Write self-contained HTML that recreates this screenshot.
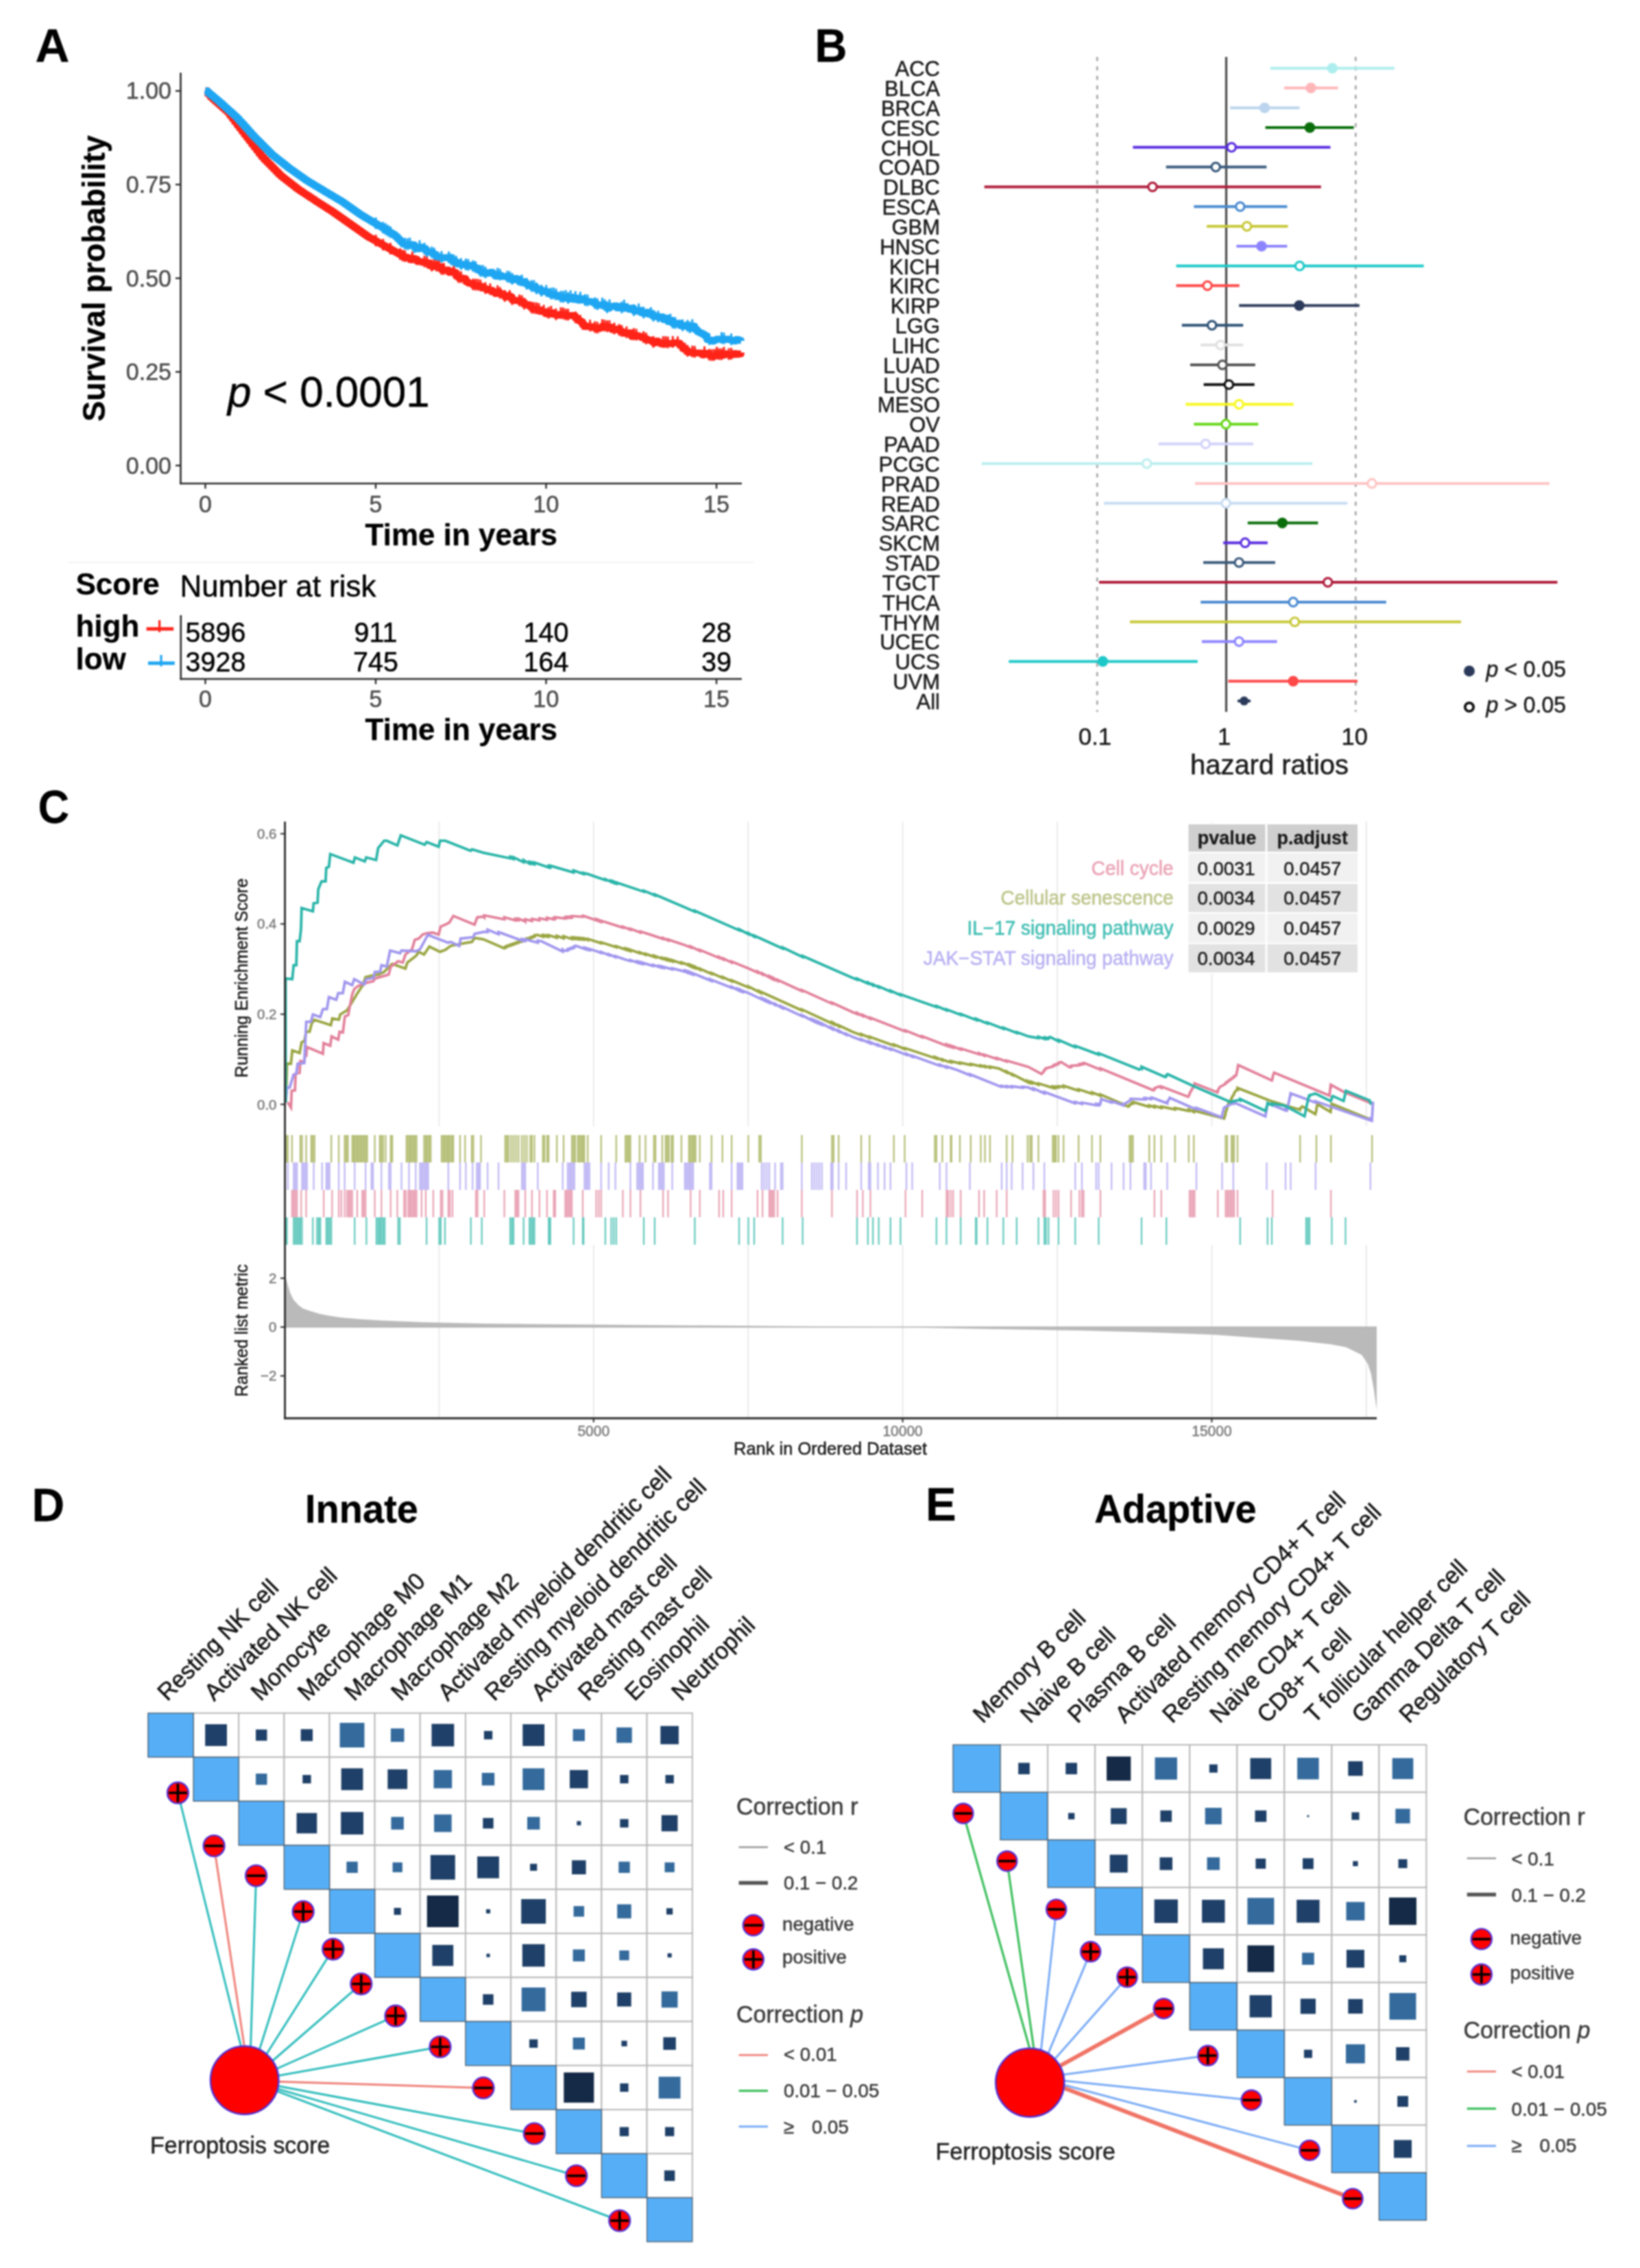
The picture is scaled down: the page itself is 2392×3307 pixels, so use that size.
<!DOCTYPE html>
<html><head><meta charset="utf-8"><title>Figure</title>
<style>html,body{margin:0;padding:0;background:#fff;} svg{display:block;filter:blur(0.8px);}</style></head>
<body><svg width="2392" height="3307" viewBox="0 0 2392 3307" font-family='"Liberation Sans", Arial, Helvetica, sans-serif'>
<rect width="2392" height="3307" fill="#fff"/>
<text transform="translate(51.5,89.5)" font-size="69" text-anchor="start" fill="#000" stroke="#000" stroke-width="0.3" font-weight="bold" >A</text>
<line x1="263.5" y1="106.0" x2="263.5" y2="706.2" stroke="#2b2b2b" stroke-width="2.6" />
<line x1="262.2" y1="705.0" x2="1082.0" y2="705.0" stroke="#2b2b2b" stroke-width="2.6" />
<line x1="256.0" y1="132.6" x2="263.5" y2="132.6" stroke="#2b2b2b" stroke-width="2.4" />
<text transform="translate(250.0,144.4) scale(1,1.025)" font-size="34" text-anchor="end" fill="#4d4d4d" stroke="#4d4d4d" stroke-width="0.5" >1.00</text>
<line x1="256.0" y1="269.1" x2="263.5" y2="269.1" stroke="#2b2b2b" stroke-width="2.4" />
<text transform="translate(250.0,280.9) scale(1,1.025)" font-size="34" text-anchor="end" fill="#4d4d4d" stroke="#4d4d4d" stroke-width="0.5" >0.75</text>
<line x1="256.0" y1="405.7" x2="263.5" y2="405.7" stroke="#2b2b2b" stroke-width="2.4" />
<text transform="translate(250.0,417.5) scale(1,1.025)" font-size="34" text-anchor="end" fill="#4d4d4d" stroke="#4d4d4d" stroke-width="0.5" >0.50</text>
<line x1="256.0" y1="542.2" x2="263.5" y2="542.2" stroke="#2b2b2b" stroke-width="2.4" />
<text transform="translate(250.0,554.0) scale(1,1.025)" font-size="34" text-anchor="end" fill="#4d4d4d" stroke="#4d4d4d" stroke-width="0.5" >0.25</text>
<line x1="256.0" y1="678.8" x2="263.5" y2="678.8" stroke="#2b2b2b" stroke-width="2.4" />
<text transform="translate(250.0,690.6) scale(1,1.025)" font-size="34" text-anchor="end" fill="#4d4d4d" stroke="#4d4d4d" stroke-width="0.5" >0.00</text>
<line x1="299.5" y1="705.0" x2="299.5" y2="712.5" stroke="#2b2b2b" stroke-width="2.4" />
<text transform="translate(299.5,746.5) scale(1,1.025)" font-size="34" text-anchor="middle" fill="#4d4d4d" stroke="#4d4d4d" stroke-width="0.5" >0</text>
<line x1="548.0" y1="705.0" x2="548.0" y2="712.5" stroke="#2b2b2b" stroke-width="2.4" />
<text transform="translate(548.0,746.5) scale(1,1.025)" font-size="34" text-anchor="middle" fill="#4d4d4d" stroke="#4d4d4d" stroke-width="0.5" >5</text>
<line x1="796.5" y1="705.0" x2="796.5" y2="712.5" stroke="#2b2b2b" stroke-width="2.4" />
<text transform="translate(796.5,746.5) scale(1,1.025)" font-size="34" text-anchor="middle" fill="#4d4d4d" stroke="#4d4d4d" stroke-width="0.5" >10</text>
<line x1="1045.0" y1="705.0" x2="1045.0" y2="712.5" stroke="#2b2b2b" stroke-width="2.4" />
<text transform="translate(1045.0,746.5) scale(1,1.025)" font-size="34" text-anchor="middle" fill="#4d4d4d" stroke="#4d4d4d" stroke-width="0.5" >15</text>
<text transform="translate(672.8,794.5) scale(1,1.025)" font-size="44" text-anchor="middle" fill="#000" stroke="#000" stroke-width="0.3" font-weight="bold" >Time in years</text>
<text transform="translate(152.5,406.0) rotate(-90) scale(1,1.025)" font-size="45" text-anchor="middle" fill="#000" stroke="#000" stroke-width="0.3" font-weight="bold" >Survival probability</text>
<text transform="translate(332.0,593.4) scale(1,1.025)" font-size="62" text-anchor="start" fill="#000" stroke="#000" stroke-width="0.5" ><tspan font-style="italic">p</tspan> &lt; 0.0001</text>
<path d="M299.5,132.6H303.1V137.5H306.6V141.8H310.2V145.0H313.7V148.1H317.3V151.3H320.8V154.4H324.4V157.6H327.9V160.7H331.5V163.9H335.0V168.6H338.6V173.3H342.1V177.9H345.7V182.6H349.2V187.3H352.8V191.9H356.3V196.6H359.9V201.2H363.4V205.8H367.0V210.4H370.5V214.9H374.1V219.5H377.6V224.1H381.2V228.7H384.7V232.6H388.3V236.2H391.8V239.8H395.4V243.4H398.9V247.0H402.5V250.6H406.0V254.2H409.6V257.4H413.1V260.2H416.7V263.0H420.2V265.7H423.8V268.5H427.3V271.3H430.9V274.1H434.4V276.8H438.0V279.1H441.6V281.5H445.1V283.8H448.7V286.1H452.2V288.5H455.8V290.8H459.3V293.2H462.9V295.5H466.4V297.7H470.0V300.0H473.5V302.3H477.1V304.6H480.6V306.8H484.2V309.1H487.7V311.6H491.3V314.1H494.8V316.6H498.4V319.1H501.9V321.6H505.5V324.1H509.0V326.6H512.6V329.1H516.1V331.6H519.7V334.1H523.2V336.6H526.8V339.1H530.3V341.6H533.9V344.1H537.4V346.4H541.0V348.3H544.5V350.3H548.1V352.3H551.6V354.3H555.2V356.2H558.7V358.2H562.3V360.2H565.8V362.1H569.4V364.1H572.9V366.1H576.5V368.0H580.1V370.0H583.6V372.0H587.2V374.0H590.7V375.0H594.3V376.1H597.8V378.7H601.4V376.7H604.9V378.1H608.5V381.4H612.0V381.4H615.6V382.6H619.1V382.8H622.7V383.3H626.2V387.4H629.8V388.8H633.3V386.3H636.9V389.1H640.4V389.0H644.0V393.8H647.5V393.4H651.1V393.7H654.6V397.3H658.2V395.7H661.7V397.4H665.3V403.0H668.8V405.4H672.4V405.5H675.9V406.2H679.5V411.0H683.0V413.0H686.6V413.3H690.1V416.2H693.7V416.6H697.2V416.8H700.8V417.8H704.3V420.1H707.9V421.5H711.4V423.0H715.0V423.3H718.6V425.5H722.1V428.1H725.7V426.0H729.2V428.6H732.8V429.7H736.3V433.1H739.9V431.0H743.4V433.1H747.0V437.8H750.5V438.3H754.1V438.0H757.6V439.6H761.2V440.4H764.7V444.3H768.3V444.3H771.8V446.7H775.4V450.0H778.9V450.5H782.5V450.9H786.0V451.9H789.6V454.2H793.1V454.6H796.7V457.7H800.2V457.6H803.8V455.9H807.3V458.4H810.9V459.8H814.4V458.5H818.0V458.1H821.5V458.5H825.1V460.1H828.6V460.2H832.2V460.1H835.7V460.5H839.3V464.2H842.8V467.2H846.4V469.3H850.0V473.9H853.5V476.3H857.1V476.0H860.6V476.2H864.2V477.7H867.7V478.4H871.3V479.3H874.8V477.7H878.4V475.4H881.9V476.2H885.5V477.2H889.0V476.9H892.6V480.7H896.1V480.6H899.7V479.7H903.2V482.4H906.8V484.0H910.3V485.9H913.9V485.9H917.4V485.3H921.0V490.7H924.5V488.5H928.1V489.5H931.6V490.4H935.2V492.3H938.7V493.0H942.3V495.1H945.8V495.9H949.4V497.4H952.9V499.9H956.5V497.3H960.0V499.5H963.6V501.5H967.1V500.2H970.7V500.3H974.2V500.8H977.8V500.9H981.3V500.0H984.9V499.7H988.5V500.5H992.0V503.9H995.6V508.4H999.1V510.2H1002.7V513.1H1006.2V514.0H1009.8V514.0H1013.3V514.5H1016.9V514.7H1020.4V514.8H1024.0V517.4H1027.5V515.0H1031.1V516.0H1034.6V518.7H1038.2V519.2H1041.7V519.1H1045.3V515.7H1048.8V517.7H1052.4V518.1H1055.9V515.7H1059.5V516.7H1063.0V517.7H1066.6V517.2H1070.1V515.4H1073.7V516.8H1077.2V516.1H1080.8V514.0" fill="none" stroke="#ff2318" stroke-width="10" stroke-linejoin="round"/>
<path d="M548.1,342.3V359.3M558.7,348.2V365.2M569.4,354.1V371.1M583.6,362.0V379.0M587.2,364.0V381.0M590.7,365.0V382.0M601.4,366.7V383.7M619.1,372.8V389.8M622.7,373.3V390.3M629.8,378.8V395.8M633.3,376.3V393.3M636.9,379.1V396.1M640.4,379.0V396.0M644.0,383.8V400.8M647.5,383.4V400.4M661.7,387.4V404.4M668.8,395.4V412.4M672.4,395.5V412.5M690.1,406.2V423.2M693.7,406.6V423.6M697.2,406.8V423.8M700.8,407.8V424.8M707.9,411.5V428.5M715.0,413.3V430.3M725.7,416.0V433.0M729.2,418.6V435.6M736.3,423.1V440.1M743.4,423.1V440.1M747.0,427.8V444.8M757.6,429.6V446.6M761.2,430.4V447.4M764.7,434.3V451.3M775.4,440.0V457.0M778.9,440.5V457.5M782.5,440.9V457.9M786.0,441.9V458.9M793.1,444.6V461.6M800.2,447.6V464.6M803.8,445.9V462.9M810.9,449.8V466.8M818.0,448.1V465.1M821.5,448.5V465.5M825.1,450.1V467.1M828.6,450.2V467.2M839.3,454.2V471.2M846.4,459.3V476.3M850.0,463.9V480.9M860.6,466.2V483.2M867.7,468.4V485.4M871.3,469.3V486.3M878.4,465.4V482.4M881.9,466.2V483.2M885.5,467.2V484.2M889.0,466.9V483.9M896.1,470.6V487.6M903.2,472.4V489.4M906.8,474.0V491.0M913.9,475.9V492.9M924.5,478.5V495.5M928.1,479.5V496.5M938.7,483.0V500.0M942.3,485.1V502.1M952.9,489.9V506.9M967.1,490.2V507.2M970.7,490.3V507.3M974.2,490.8V507.8M981.3,490.0V507.0M988.5,490.5V507.5M999.1,500.2V517.2M1002.7,503.1V520.1M1009.8,504.0V521.0M1013.3,504.5V521.5M1027.5,505.0V522.0M1034.6,508.7V525.7M1038.2,509.2V526.2M1041.7,509.1V526.1M1045.3,505.7V522.7M1048.8,507.7V524.7M1052.4,508.1V525.1M1055.9,505.7V522.7M1063.0,507.7V524.7M1066.6,507.2V524.2" stroke="#ff2318" stroke-width="3" fill="none"/>
<path d="M299.5,132.6H303.1V135.6H306.6V138.6H310.2V141.5H313.7V144.5H317.3V147.5H320.8V150.6H324.4V153.8H327.9V157.0H331.5V160.2H335.0V163.3H338.6V166.5H342.1V169.7H345.7V173.3H349.2V177.2H352.8V181.1H356.3V185.1H359.9V189.0H363.4V193.0H367.0V196.9H370.5V200.7H374.1V204.3H377.6V207.8H381.2V211.4H384.7V215.0H388.3V218.5H391.8V222.1H395.4V225.6H398.9V228.4H402.5V231.2H406.0V234.0H409.6V236.8H413.1V239.6H416.7V242.4H420.2V245.2H423.8V247.8H427.3V250.3H430.9V252.8H434.4V255.2H438.0V257.7H441.6V260.2H445.1V262.7H448.7V265.0H452.2V267.1H455.8V269.2H459.3V271.4H462.9V273.5H466.4V275.6H470.0V277.8H473.5V279.9H477.1V282.0H480.6V284.1H484.2V286.2H487.7V288.3H491.3V290.4H494.8V292.5H498.4V294.7H501.9V297.2H505.5V299.7H509.0V302.3H512.6V304.8H516.1V307.3H519.7V309.8H523.2V312.3H526.8V314.4H530.3V316.6H533.9V318.7H537.4V320.8H541.0V322.9H544.5V325.0H548.1V327.1H551.6V329.2H555.2V331.3H558.7V333.5H562.3V335.6H565.8V337.8H569.4V339.9H572.9V342.0H576.5V345.1H580.1V348.7H583.6V352.3H587.2V355.9H590.7V356.8H594.3V357.6H597.8V356.5H601.4V357.3H604.9V362.0H608.5V362.7H612.0V360.3H615.6V362.1H619.1V364.1H622.7V367.4H626.2V367.8H629.8V369.4H633.3V371.2H636.9V374.8H640.4V374.9H644.0V376.1H647.5V375.7H651.1V375.6H654.6V376.8H658.2V379.7H661.7V381.1H665.3V383.0H668.8V385.1H672.4V386.2H675.9V385.3H679.5V387.0H683.0V387.8H686.6V386.7H690.1V389.4H693.7V390.9H697.2V393.9H700.8V396.4H704.3V396.6H707.9V398.7H711.4V398.1H715.0V397.0H718.6V399.5H722.1V402.7H725.7V400.6H729.2V402.1H732.8V403.3H736.3V403.3H739.9V404.7H743.4V405.4H747.0V408.1H750.5V406.1H754.1V406.9H757.6V411.4H761.2V410.6H764.7V412.5H768.3V415.3H771.8V416.7H775.4V418.6H778.9V418.5H782.5V422.0H786.0V421.9H789.6V425.3H793.1V424.3H796.7V425.5H800.2V428.7H803.8V429.6H807.3V429.3H810.9V430.8H814.4V432.4H818.0V434.1H821.5V434.2H825.1V433.0H828.6V435.9H832.2V433.2H835.7V436.6H839.3V434.5H842.8V437.8H846.4V435.6H850.0V437.4H853.5V439.0H857.1V439.6H860.6V439.9H864.2V441.2H867.7V443.5H871.3V445.0H874.8V444.7H878.4V443.9H881.9V446.3H885.5V449.6H889.0V446.4H892.6V446.8H896.1V446.0H899.7V449.1H903.2V446.7H906.8V449.7H910.3V447.1H913.9V449.8H917.4V451.1H921.0V449.3H924.5V453.7H928.1V452.9H931.6V452.5H935.2V456.2H938.7V457.3H942.3V455.3H945.8V458.2H949.4V457.9H952.9V461.8H956.5V461.3H960.0V463.0H963.6V462.0H967.1V466.0H970.7V463.7H974.2V469.1H977.8V467.5H981.3V472.0H984.9V472.4H988.5V471.2H992.0V474.9H995.6V475.7H999.1V474.3H1002.7V476.5H1006.2V478.8H1009.8V475.5H1013.3V480.4H1016.9V483.8H1020.4V485.4H1024.0V487.2H1027.5V489.6H1031.1V495.3H1034.6V496.0H1038.2V497.5H1041.7V495.8H1045.3V494.5H1048.8V494.8H1052.4V494.2H1055.9V495.0H1059.5V494.6H1063.0V495.4H1066.6V496.3H1070.1V497.2H1073.7V495.0H1077.2V496.3H1080.8V497.0" fill="none" stroke="#1ea6f2" stroke-width="10" stroke-linejoin="round"/>
<path d="M548.1,317.1V334.1M558.7,323.5V340.5M562.3,325.6V342.6M565.8,327.8V344.8M569.4,329.9V346.9M590.7,346.8V363.8M594.3,347.6V364.6M597.8,346.5V363.5M604.9,352.0V369.0M612.0,350.3V367.3M619.1,354.1V371.1M622.7,357.4V374.4M629.8,359.4V376.4M633.3,361.2V378.2M644.0,366.1V383.1M654.6,366.8V383.8M658.2,369.7V386.7M661.7,371.1V388.1M665.3,373.0V390.0M672.4,376.2V393.2M679.5,377.0V394.0M683.0,377.8V394.8M690.1,379.4V396.4M693.7,380.9V397.9M700.8,386.4V403.4M704.3,386.6V403.6M707.9,388.7V405.7M725.7,390.6V407.6M729.2,392.1V409.1M739.9,394.7V411.7M743.4,395.4V412.4M747.0,398.1V415.1M761.2,400.6V417.6M768.3,405.3V422.3M775.4,408.6V425.6M778.9,408.5V425.5M782.5,412.0V429.0M789.6,415.3V432.3M796.7,415.5V432.5M803.8,419.6V436.6M807.3,419.3V436.3M810.9,420.8V437.8M818.0,424.1V441.1M821.5,424.2V441.2M825.1,423.0V440.0M828.6,425.9V442.9M832.2,423.2V440.2M839.3,424.5V441.5M846.4,425.6V442.6M853.5,429.0V446.0M857.1,429.6V446.6M867.7,433.5V450.5M871.3,435.0V452.0M878.4,433.9V450.9M881.9,436.3V453.3M885.5,439.6V456.6M889.0,436.4V453.4M906.8,439.7V456.7M910.3,437.1V454.1M924.5,443.7V460.7M931.6,442.5V459.5M938.7,447.3V464.3M949.4,447.9V464.9M952.9,451.8V468.8M960.0,453.0V470.0M977.8,457.5V474.5M981.3,462.0V479.0M984.9,462.4V479.4M995.6,465.7V482.7M1002.7,466.5V483.5M1006.2,468.8V485.8M1009.8,465.5V482.5M1034.6,486.0V503.0M1052.4,484.2V501.2M1055.9,485.0V502.0M1066.6,486.3V503.3" stroke="#1ea6f2" stroke-width="3" fill="none"/>
<line x1="100.0" y1="820.0" x2="1100.0" y2="820.0" stroke="#f2f2f2" stroke-width="2" />
<text transform="translate(110.5,866.8) scale(1,1.025)" font-size="44" text-anchor="start" fill="#000" stroke="#000" stroke-width="0.3" font-weight="bold" >Score</text>
<text transform="translate(262.5,870.3) scale(1,1.025)" font-size="44" text-anchor="start" fill="#000" stroke="#000" stroke-width="0.5" >Number at risk</text>
<text transform="translate(110.5,928.0) scale(1,1.025)" font-size="44" text-anchor="start" fill="#000" stroke="#000" stroke-width="0.3" font-weight="bold" >high</text>
<text transform="translate(110.5,976.4) scale(1,1.025)" font-size="44" text-anchor="start" fill="#000" stroke="#000" stroke-width="0.3" font-weight="bold" >low</text>
<line x1="213.6" y1="917.0" x2="253.2" y2="917.0" stroke="#ff2318" stroke-width="5" />
<line x1="232.6" y1="904.3" x2="232.6" y2="921.7" stroke="#ff2318" stroke-width="3.2" />
<line x1="216.0" y1="967.0" x2="254.8" y2="967.0" stroke="#1ea6f2" stroke-width="5" />
<line x1="235.0" y1="955.0" x2="235.0" y2="971.6" stroke="#1ea6f2" stroke-width="3.2" />
<line x1="263.8" y1="897.0" x2="263.8" y2="991.3" stroke="#2b2b2b" stroke-width="2.6" />
<line x1="262.5" y1="990.0" x2="1082.0" y2="990.0" stroke="#2b2b2b" stroke-width="2.6" />
<line x1="299.5" y1="990.0" x2="299.5" y2="997.5" stroke="#2b2b2b" stroke-width="2.4" />
<text transform="translate(299.5,1031.0) scale(1,1.025)" font-size="34" text-anchor="middle" fill="#4d4d4d" stroke="#4d4d4d" stroke-width="0.5" >0</text>
<line x1="548.0" y1="990.0" x2="548.0" y2="997.5" stroke="#2b2b2b" stroke-width="2.4" />
<text transform="translate(548.0,1031.0) scale(1,1.025)" font-size="34" text-anchor="middle" fill="#4d4d4d" stroke="#4d4d4d" stroke-width="0.5" >5</text>
<line x1="796.5" y1="990.0" x2="796.5" y2="997.5" stroke="#2b2b2b" stroke-width="2.4" />
<text transform="translate(796.5,1031.0) scale(1,1.025)" font-size="34" text-anchor="middle" fill="#4d4d4d" stroke="#4d4d4d" stroke-width="0.5" >10</text>
<line x1="1045.0" y1="990.0" x2="1045.0" y2="997.5" stroke="#2b2b2b" stroke-width="2.4" />
<text transform="translate(1045.0,1031.0) scale(1,1.025)" font-size="34" text-anchor="middle" fill="#4d4d4d" stroke="#4d4d4d" stroke-width="0.5" >15</text>
<text transform="translate(672.8,1078.8) scale(1,1.025)" font-size="44" text-anchor="middle" fill="#000" stroke="#000" stroke-width="0.3" font-weight="bold" >Time in years</text>
<text transform="translate(270.5,936.0) scale(1,1.025)" font-size="39.5" text-anchor="start" fill="#000" stroke="#000" stroke-width="0.5" >5896</text>
<text transform="translate(270.5,978.5) scale(1,1.025)" font-size="39.5" text-anchor="start" fill="#000" stroke="#000" stroke-width="0.5" >3928</text>
<text transform="translate(548.0,936.0) scale(1,1.025)" font-size="39.5" text-anchor="middle" fill="#000" stroke="#000" stroke-width="0.5" >911</text>
<text transform="translate(548.0,978.5) scale(1,1.025)" font-size="39.5" text-anchor="middle" fill="#000" stroke="#000" stroke-width="0.5" >745</text>
<text transform="translate(796.5,936.0) scale(1,1.025)" font-size="39.5" text-anchor="middle" fill="#000" stroke="#000" stroke-width="0.5" >140</text>
<text transform="translate(796.5,978.5) scale(1,1.025)" font-size="39.5" text-anchor="middle" fill="#000" stroke="#000" stroke-width="0.5" >164</text>
<text transform="translate(1045.0,936.0) scale(1,1.025)" font-size="39.5" text-anchor="middle" fill="#000" stroke="#000" stroke-width="0.5" >28</text>
<text transform="translate(1045.0,978.5) scale(1,1.025)" font-size="39.5" text-anchor="middle" fill="#000" stroke="#000" stroke-width="0.5" >39</text>
<text transform="translate(1188.5,89.5) scale(1,1.06)" font-size="65" text-anchor="start" fill="#000" stroke="#000" stroke-width="0.3" font-weight="bold" >B</text>
<g>
<line x1="1600.3" y1="83.0" x2="1600.3" y2="1038.0" stroke="#a8a8a8" stroke-width="2.8" stroke-dasharray="6 7.8"/>
<line x1="1977.3" y1="83.0" x2="1977.3" y2="1038.0" stroke="#a8a8a8" stroke-width="2.8" stroke-dasharray="6 7.8"/>
<line x1="1788.5" y1="83.0" x2="1788.5" y2="1038.0" stroke="#4a4a4a" stroke-width="3.2" />
</g>
<text transform="translate(1371.0,111.3) scale(1,1.025)" font-size="31" text-anchor="end" fill="#1a1a1a" stroke="#1a1a1a" stroke-width="0.5" >ACC</text>
<line x1="1852.7" y1="99.5" x2="2033.8" y2="99.5" stroke="#aeeeee" stroke-width="4" />
<circle cx="1943.3" cy="99.5" r="7.8" fill="#aeeeee"/>
<text transform="translate(1371.0,140.1) scale(1,1.025)" font-size="31" text-anchor="end" fill="#1a1a1a" stroke="#1a1a1a" stroke-width="0.5" >BLCA</text>
<line x1="1873.0" y1="128.3" x2="1951.5" y2="128.3" stroke="#ffb6b9" stroke-width="4" />
<circle cx="1912.0" cy="128.3" r="7.8" fill="#ffb6b9"/>
<text transform="translate(1371.0,169.0) scale(1,1.025)" font-size="31" text-anchor="end" fill="#1a1a1a" stroke="#1a1a1a" stroke-width="0.5" >BRCA</text>
<line x1="1794.0" y1="157.2" x2="1895.5" y2="157.2" stroke="#bcd4ee" stroke-width="4" />
<circle cx="1844.5" cy="157.2" r="7.8" fill="#bcd4ee"/>
<text transform="translate(1371.0,197.8) scale(1,1.025)" font-size="31" text-anchor="end" fill="#1a1a1a" stroke="#1a1a1a" stroke-width="0.5" >CESC</text>
<line x1="1845.6" y1="186.0" x2="1974.6" y2="186.0" stroke="#0a6e0a" stroke-width="4" />
<circle cx="1910.4" cy="186.0" r="7.8" fill="#0a6e0a"/>
<text transform="translate(1371.0,226.6) scale(1,1.025)" font-size="31" text-anchor="end" fill="#1a1a1a" stroke="#1a1a1a" stroke-width="0.5" >CHOL</text>
<line x1="1652.4" y1="214.8" x2="1940.5" y2="214.8" stroke="#5a2ee0" stroke-width="4" />
<circle cx="1796.2" cy="214.8" r="6.2" fill="#fff" stroke="#5a2ee0" stroke-width="3.2"/>
<text transform="translate(1371.0,255.4) scale(1,1.025)" font-size="31" text-anchor="end" fill="#1a1a1a" stroke="#1a1a1a" stroke-width="0.5" >COAD</text>
<line x1="1700.7" y1="243.6" x2="1847.3" y2="243.6" stroke="#3a5a7c" stroke-width="4" />
<circle cx="1773.2" cy="243.6" r="6.2" fill="#fff" stroke="#3a5a7c" stroke-width="3.2"/>
<text transform="translate(1371.0,284.3) scale(1,1.025)" font-size="31" text-anchor="end" fill="#1a1a1a" stroke="#1a1a1a" stroke-width="0.5" >DLBC</text>
<line x1="1435.7" y1="272.5" x2="1926.8" y2="272.5" stroke="#b01c3a" stroke-width="4" />
<circle cx="1681.0" cy="272.5" r="6.2" fill="#fff" stroke="#b01c3a" stroke-width="3.2"/>
<text transform="translate(1371.0,313.1) scale(1,1.025)" font-size="31" text-anchor="end" fill="#1a1a1a" stroke="#1a1a1a" stroke-width="0.5" >ESCA</text>
<line x1="1741.3" y1="301.3" x2="1877.4" y2="301.3" stroke="#4a8ad0" stroke-width="4" />
<circle cx="1808.8" cy="301.3" r="6.2" fill="#fff" stroke="#4a8ad0" stroke-width="3.2"/>
<text transform="translate(1371.0,341.9) scale(1,1.025)" font-size="31" text-anchor="end" fill="#1a1a1a" stroke="#1a1a1a" stroke-width="0.5" >GBM</text>
<line x1="1760.0" y1="330.1" x2="1878.5" y2="330.1" stroke="#c8c83a" stroke-width="4" />
<circle cx="1818.7" cy="330.1" r="6.2" fill="#fff" stroke="#c8c83a" stroke-width="3.2"/>
<text transform="translate(1371.0,370.8) scale(1,1.025)" font-size="31" text-anchor="end" fill="#1a1a1a" stroke="#1a1a1a" stroke-width="0.5" >HNSC</text>
<line x1="1803.4" y1="359.0" x2="1877.4" y2="359.0" stroke="#8c84ff" stroke-width="4" />
<circle cx="1840.0" cy="359.0" r="7.8" fill="#8c84ff"/>
<text transform="translate(1371.0,399.6) scale(1,1.025)" font-size="31" text-anchor="end" fill="#1a1a1a" stroke="#1a1a1a" stroke-width="0.5" >KICH</text>
<line x1="1715.5" y1="387.8" x2="2076.6" y2="387.8" stroke="#1ec8c8" stroke-width="4" />
<circle cx="1895.6" cy="387.8" r="6.2" fill="#fff" stroke="#1ec8c8" stroke-width="3.2"/>
<text transform="translate(1371.0,428.4) scale(1,1.025)" font-size="31" text-anchor="end" fill="#1a1a1a" stroke="#1a1a1a" stroke-width="0.5" >KIRC</text>
<line x1="1715.5" y1="416.6" x2="1807.7" y2="416.6" stroke="#ff4848" stroke-width="4" />
<circle cx="1761.1" cy="416.6" r="6.2" fill="#fff" stroke="#ff4848" stroke-width="3.2"/>
<text transform="translate(1371.0,457.3) scale(1,1.025)" font-size="31" text-anchor="end" fill="#1a1a1a" stroke="#1a1a1a" stroke-width="0.5" >KIRP</text>
<line x1="1807.2" y1="445.5" x2="1982.8" y2="445.5" stroke="#2b3a5a" stroke-width="4" />
<circle cx="1895.0" cy="445.5" r="7.8" fill="#2b3a5a"/>
<text transform="translate(1371.0,486.1) scale(1,1.025)" font-size="31" text-anchor="end" fill="#1a1a1a" stroke="#1a1a1a" stroke-width="0.5" >LGG</text>
<line x1="1723.8" y1="474.3" x2="1813.2" y2="474.3" stroke="#2e5276" stroke-width="4" />
<circle cx="1767.7" cy="474.3" r="6.2" fill="#fff" stroke="#2e5276" stroke-width="3.2"/>
<text transform="translate(1371.0,514.9) scale(1,1.025)" font-size="31" text-anchor="end" fill="#1a1a1a" stroke="#1a1a1a" stroke-width="0.5" >LIHC</text>
<line x1="1751.2" y1="503.1" x2="1813.2" y2="503.1" stroke="#e0e0e0" stroke-width="4" />
<circle cx="1780.3" cy="503.1" r="6.2" fill="#fff" stroke="#e0e0e0" stroke-width="3.2"/>
<text transform="translate(1371.0,543.8) scale(1,1.025)" font-size="31" text-anchor="end" fill="#1a1a1a" stroke="#1a1a1a" stroke-width="0.5" >LUAD</text>
<line x1="1735.9" y1="532.0" x2="1830.8" y2="532.0" stroke="#555555" stroke-width="4" />
<circle cx="1783.0" cy="532.0" r="6.2" fill="#fff" stroke="#555555" stroke-width="3.2"/>
<text transform="translate(1371.0,572.6) scale(1,1.025)" font-size="31" text-anchor="end" fill="#1a1a1a" stroke="#1a1a1a" stroke-width="0.5" >LUSC</text>
<line x1="1755.6" y1="560.8" x2="1829.7" y2="560.8" stroke="#111111" stroke-width="4" />
<circle cx="1792.4" cy="560.8" r="6.2" fill="#fff" stroke="#111111" stroke-width="3.2"/>
<text transform="translate(1371.0,601.4) scale(1,1.025)" font-size="31" text-anchor="end" fill="#1a1a1a" stroke="#1a1a1a" stroke-width="0.5" >MESO</text>
<line x1="1729.3" y1="589.6" x2="1886.8" y2="589.6" stroke="#f8f820" stroke-width="4" />
<circle cx="1807.2" cy="589.6" r="6.2" fill="#fff" stroke="#f8f820" stroke-width="3.2"/>
<text transform="translate(1371.0,630.2) scale(1,1.025)" font-size="31" text-anchor="end" fill="#1a1a1a" stroke="#1a1a1a" stroke-width="0.5" >OV</text>
<line x1="1741.3" y1="618.4" x2="1835.2" y2="618.4" stroke="#66d81a" stroke-width="4" />
<circle cx="1788.0" cy="618.4" r="6.2" fill="#fff" stroke="#66d81a" stroke-width="3.2"/>
<text transform="translate(1371.0,659.1) scale(1,1.025)" font-size="31" text-anchor="end" fill="#1a1a1a" stroke="#1a1a1a" stroke-width="0.5" >PAAD</text>
<line x1="1689.8" y1="647.3" x2="1828.0" y2="647.3" stroke="#d2d2fa" stroke-width="4" />
<circle cx="1758.4" cy="647.3" r="6.2" fill="#fff" stroke="#d2d2fa" stroke-width="3.2"/>
<text transform="translate(1371.0,687.9) scale(1,1.025)" font-size="31" text-anchor="end" fill="#1a1a1a" stroke="#1a1a1a" stroke-width="0.5" >PCGC</text>
<line x1="1431.8" y1="676.1" x2="1914.2" y2="676.1" stroke="#bdeeee" stroke-width="4" />
<circle cx="1672.7" cy="676.1" r="6.2" fill="#fff" stroke="#bdeeee" stroke-width="3.2"/>
<text transform="translate(1371.0,716.7) scale(1,1.025)" font-size="31" text-anchor="end" fill="#1a1a1a" stroke="#1a1a1a" stroke-width="0.5" >PRAD</text>
<line x1="1743.0" y1="704.9" x2="2260.0" y2="704.9" stroke="#ffc4c4" stroke-width="4" />
<circle cx="2001.0" cy="704.9" r="6.2" fill="#fff" stroke="#ffc4c4" stroke-width="3.2"/>
<text transform="translate(1371.0,745.6) scale(1,1.025)" font-size="31" text-anchor="end" fill="#1a1a1a" stroke="#1a1a1a" stroke-width="0.5" >READ</text>
<line x1="1610.2" y1="733.8" x2="1965.3" y2="733.8" stroke="#c8dcf2" stroke-width="4" />
<circle cx="1788.0" cy="733.8" r="6.2" fill="#fff" stroke="#c8dcf2" stroke-width="3.2"/>
<text transform="translate(1371.0,774.4) scale(1,1.025)" font-size="31" text-anchor="end" fill="#1a1a1a" stroke="#1a1a1a" stroke-width="0.5" >SARC</text>
<line x1="1819.8" y1="762.6" x2="1922.4" y2="762.6" stroke="#0a6e0a" stroke-width="4" />
<circle cx="1870.3" cy="762.6" r="7.8" fill="#0a6e0a"/>
<text transform="translate(1371.0,803.2) scale(1,1.025)" font-size="31" text-anchor="end" fill="#1a1a1a" stroke="#1a1a1a" stroke-width="0.5" >SKCM</text>
<line x1="1784.1" y1="791.4" x2="1848.9" y2="791.4" stroke="#5a2ee0" stroke-width="4" />
<circle cx="1816.0" cy="791.4" r="6.2" fill="#fff" stroke="#5a2ee0" stroke-width="3.2"/>
<text transform="translate(1371.0,832.0) scale(1,1.025)" font-size="31" text-anchor="end" fill="#1a1a1a" stroke="#1a1a1a" stroke-width="0.5" >STAD</text>
<line x1="1755.0" y1="820.2" x2="1859.9" y2="820.2" stroke="#3a5a7c" stroke-width="4" />
<circle cx="1807.2" cy="820.2" r="6.2" fill="#fff" stroke="#3a5a7c" stroke-width="3.2"/>
<text transform="translate(1371.0,860.9) scale(1,1.025)" font-size="31" text-anchor="end" fill="#1a1a1a" stroke="#1a1a1a" stroke-width="0.5" >TGCT</text>
<line x1="1603.0" y1="849.1" x2="2271.5" y2="849.1" stroke="#b01c3a" stroke-width="4" />
<circle cx="1936.7" cy="849.1" r="6.2" fill="#fff" stroke="#b01c3a" stroke-width="3.2"/>
<text transform="translate(1371.0,889.7) scale(1,1.025)" font-size="31" text-anchor="end" fill="#1a1a1a" stroke="#1a1a1a" stroke-width="0.5" >THCA</text>
<line x1="1751.2" y1="877.9" x2="2021.8" y2="877.9" stroke="#4a8ad0" stroke-width="4" />
<circle cx="1886.2" cy="877.9" r="6.2" fill="#fff" stroke="#4a8ad0" stroke-width="3.2"/>
<text transform="translate(1371.0,918.5) scale(1,1.025)" font-size="31" text-anchor="end" fill="#1a1a1a" stroke="#1a1a1a" stroke-width="0.5" >THYM</text>
<line x1="1648.0" y1="906.7" x2="2131.0" y2="906.7" stroke="#c8c83a" stroke-width="4" />
<circle cx="1888.4" cy="906.7" r="6.2" fill="#fff" stroke="#c8c83a" stroke-width="3.2"/>
<text transform="translate(1371.0,947.4) scale(1,1.025)" font-size="31" text-anchor="end" fill="#1a1a1a" stroke="#1a1a1a" stroke-width="0.5" >UCEC</text>
<line x1="1752.9" y1="935.6" x2="1862.6" y2="935.6" stroke="#8c84ff" stroke-width="4" />
<circle cx="1807.2" cy="935.6" r="6.2" fill="#fff" stroke="#8c84ff" stroke-width="3.2"/>
<text transform="translate(1371.0,976.2) scale(1,1.025)" font-size="31" text-anchor="end" fill="#1a1a1a" stroke="#1a1a1a" stroke-width="0.5" >UCS</text>
<line x1="1471.3" y1="964.4" x2="1746.8" y2="964.4" stroke="#1ec8c8" stroke-width="4" />
<circle cx="1608.5" cy="964.4" r="7.8" fill="#1ec8c8"/>
<text transform="translate(1371.0,1005.0) scale(1,1.025)" font-size="31" text-anchor="end" fill="#1a1a1a" stroke="#1a1a1a" stroke-width="0.5" >UVM</text>
<line x1="1791.3" y1="993.2" x2="1980.0" y2="993.2" stroke="#ff4848" stroke-width="4" />
<circle cx="1886.2" cy="993.2" r="7.8" fill="#ff4848"/>
<text transform="translate(1371.0,1033.9) scale(1,1.025)" font-size="31" text-anchor="end" fill="#1a1a1a" stroke="#1a1a1a" stroke-width="0.5" >All</text>
<line x1="1805.0" y1="1022.1" x2="1824.0" y2="1022.1" stroke="#2b3a5a" stroke-width="4" />
<circle cx="1814.6" cy="1022.1" r="6.5" fill="#2b3a5a"/>
<text transform="translate(1597.0,1085.5) scale(1,1.025)" font-size="34.5" text-anchor="middle" fill="#1a1a1a" stroke="#1a1a1a" stroke-width="0.5" >0.1</text>
<text transform="translate(1785.5,1085.5) scale(1,1.025)" font-size="34.5" text-anchor="middle" fill="#1a1a1a" stroke="#1a1a1a" stroke-width="0.5" >1</text>
<text transform="translate(1975.7,1085.5) scale(1,1.025)" font-size="34.5" text-anchor="middle" fill="#1a1a1a" stroke="#1a1a1a" stroke-width="0.5" >10</text>
<text transform="translate(1851.5,1128.8) scale(1,1.025)" font-size="40" text-anchor="middle" fill="#1a1a1a" stroke="#1a1a1a" stroke-width="0.5" >hazard ratios</text>
<circle cx="2143" cy="978.4" r="8" fill="#2b3a5a"/>
<text transform="translate(2167.5,987.0) scale(1,1.025)" font-size="32" text-anchor="start" fill="#1a1a1a" stroke="#1a1a1a" stroke-width="0.5" ><tspan font-style="italic">p</tspan> &lt; 0.05</text>
<circle cx="2143" cy="1031" r="6.2" fill="#fff" stroke="#111" stroke-width="3.8"/>
<text transform="translate(2167.5,1038.6) scale(1,1.025)" font-size="32" text-anchor="start" fill="#1a1a1a" stroke="#1a1a1a" stroke-width="0.5" ><tspan font-style="italic">p</tspan> &gt; 0.05</text>
<text transform="translate(55.5,1199.5) scale(1,1.09)" font-size="63" text-anchor="start" fill="#000" stroke="#000" stroke-width="0.3" font-weight="bold" >C</text>
<line x1="640.4" y1="1198.0" x2="640.4" y2="1642.0" stroke="#ebebeb" stroke-width="2" />
<line x1="640.4" y1="1815.0" x2="640.4" y2="2067.0" stroke="#ebebeb" stroke-width="2" />
<line x1="865.8" y1="1198.0" x2="865.8" y2="1642.0" stroke="#ebebeb" stroke-width="2" />
<line x1="865.8" y1="1815.0" x2="865.8" y2="2067.0" stroke="#ebebeb" stroke-width="2" />
<line x1="1091.2" y1="1198.0" x2="1091.2" y2="1642.0" stroke="#ebebeb" stroke-width="2" />
<line x1="1091.2" y1="1815.0" x2="1091.2" y2="2067.0" stroke="#ebebeb" stroke-width="2" />
<line x1="1316.6" y1="1198.0" x2="1316.6" y2="1642.0" stroke="#ebebeb" stroke-width="2" />
<line x1="1316.6" y1="1815.0" x2="1316.6" y2="2067.0" stroke="#ebebeb" stroke-width="2" />
<line x1="1542.0" y1="1198.0" x2="1542.0" y2="1642.0" stroke="#ebebeb" stroke-width="2" />
<line x1="1542.0" y1="1815.0" x2="1542.0" y2="2067.0" stroke="#ebebeb" stroke-width="2" />
<line x1="1767.4" y1="1198.0" x2="1767.4" y2="1642.0" stroke="#ebebeb" stroke-width="2" />
<line x1="1767.4" y1="1815.0" x2="1767.4" y2="2067.0" stroke="#ebebeb" stroke-width="2" />
<line x1="1992.8" y1="1198.0" x2="1992.8" y2="1642.0" stroke="#ebebeb" stroke-width="2" />
<line x1="1992.8" y1="1815.0" x2="1992.8" y2="2067.0" stroke="#ebebeb" stroke-width="2" />
<rect x="1731.5" y="1200" width="250.5" height="220" fill="#fff"/>
<rect x="1733.5" y="1202" width="112.0" height="39.7" fill="#cfcfcf"/>
<rect x="1848.5" y="1202" width="131.5" height="39.7" fill="#cfcfcf"/>
<rect x="1733.5" y="1244" width="112.0" height="42" fill="#f1f1f1"/>
<rect x="1848.5" y="1244" width="131.5" height="42" fill="#f1f1f1"/>
<rect x="1733.5" y="1288.8" width="112.0" height="41.200000000000045" fill="#e2e2e2"/>
<rect x="1848.5" y="1288.8" width="131.5" height="41.200000000000045" fill="#e2e2e2"/>
<rect x="1733.5" y="1332.3" width="112.0" height="42.100000000000136" fill="#f1f1f1"/>
<rect x="1848.5" y="1332.3" width="131.5" height="42.100000000000136" fill="#f1f1f1"/>
<rect x="1733.5" y="1376.6" width="112.0" height="41.200000000000045" fill="#e2e2e2"/>
<rect x="1848.5" y="1376.6" width="131.5" height="41.200000000000045" fill="#e2e2e2"/>
<text transform="translate(1789.5,1231.0) scale(1,1.025)" font-size="27" text-anchor="middle" fill="#1a1a1a" stroke="#1a1a1a" stroke-width="0.3" font-weight="bold" >pvalue</text>
<text transform="translate(1914.3,1231.0) scale(1,1.025)" font-size="27" text-anchor="middle" fill="#1a1a1a" stroke="#1a1a1a" stroke-width="0.3" font-weight="bold" >p.adjust</text>
<text transform="translate(1711.6,1275.5) scale(1,1.025)" font-size="28" text-anchor="end" fill="#eaa2b4" stroke="#eaa2b4" stroke-width="0.5" >Cell cycle</text>
<text transform="translate(1788.5,1275.5) scale(1,1.025)" font-size="27.5" text-anchor="middle" fill="#1a1a1a" stroke="#1a1a1a" stroke-width="0.5" >0.0031</text>
<text transform="translate(1914.3,1275.5) scale(1,1.025)" font-size="27.5" text-anchor="middle" fill="#1a1a1a" stroke="#1a1a1a" stroke-width="0.5" >0.0457</text>
<text transform="translate(1711.6,1319.0) scale(1,1.025)" font-size="28" text-anchor="end" fill="#bcc488" stroke="#bcc488" stroke-width="0.5" >Cellular senescence</text>
<text transform="translate(1788.5,1319.0) scale(1,1.025)" font-size="27.5" text-anchor="middle" fill="#1a1a1a" stroke="#1a1a1a" stroke-width="0.5" >0.0034</text>
<text transform="translate(1914.3,1319.0) scale(1,1.025)" font-size="27.5" text-anchor="middle" fill="#1a1a1a" stroke="#1a1a1a" stroke-width="0.5" >0.0457</text>
<text transform="translate(1711.6,1363.3) scale(1,1.025)" font-size="28" text-anchor="end" fill="#3dbdb2" stroke="#3dbdb2" stroke-width="0.5" >IL−17 signaling pathway</text>
<text transform="translate(1788.5,1363.3) scale(1,1.025)" font-size="27.5" text-anchor="middle" fill="#1a1a1a" stroke="#1a1a1a" stroke-width="0.5" >0.0029</text>
<text transform="translate(1914.3,1363.3) scale(1,1.025)" font-size="27.5" text-anchor="middle" fill="#1a1a1a" stroke="#1a1a1a" stroke-width="0.5" >0.0457</text>
<text transform="translate(1711.6,1406.8) scale(1,1.025)" font-size="28" text-anchor="end" fill="#b8b0f2" stroke="#b8b0f2" stroke-width="0.5" >JAK−STAT signaling pathway</text>
<text transform="translate(1788.5,1406.8) scale(1,1.025)" font-size="27.5" text-anchor="middle" fill="#1a1a1a" stroke="#1a1a1a" stroke-width="0.5" >0.0034</text>
<text transform="translate(1914.3,1406.8) scale(1,1.025)" font-size="27.5" text-anchor="middle" fill="#1a1a1a" stroke="#1a1a1a" stroke-width="0.5" >0.0457</text>
<path d="M417.0,1607.2L418.6,1551.0L424.4,1551.0L426.3,1531.5L437.0,1535.4L439.9,1519.9L443.8,1518.0L446.7,1504.4L451.6,1504.4L454.5,1492.7L458.4,1486.9L482.6,1494.7L484.6,1485.0L494.3,1486.9L496.2,1479.2L505.9,1473.3L509.8,1467.5L521.4,1448.1L529.2,1436.5L533.1,1424.8L540.8,1422.9L552.5,1420.9L560.2,1417.1L571.9,1405.4L591.3,1412.2L594.2,1403.5L606.8,1393.8L610.7,1387.9L618.5,1391.8L626.2,1380.2L641.8,1387.9L649.5,1385.0L657.3,1379.2L676.7,1375.3L688.3,1373.4L692.2,1367.6L705.0,1369.5L735.4,1382.8L736.8,1382.4L736.8,1380.4L739.3,1380.5L739.3,1379.5L741.7,1379.6L741.7,1378.4L745.4,1378.5L745.4,1377.0L749.0,1377.2L749.0,1375.7L752.7,1375.8L752.7,1374.4L756.3,1374.5L756.3,1372.8L761.2,1373.0L761.2,1371.3L764.9,1371.4L764.9,1369.9L768.5,1370.0L768.5,1368.3L773.4,1368.5L773.4,1367.0L775.9,1367.1L775.9,1365.9L779.5,1366.0L779.5,1363.8L784.0,1363.3L791.7,1365.8L791.7,1363.8L794.1,1365.0L794.1,1363.8L797.8,1365.5L797.8,1364.3L800.2,1365.5L800.2,1363.5L812.2,1367.4L812.2,1364.4L822.0,1368.2L822.0,1365.2L834.1,1369.2L834.1,1367.2L836.6,1368.4L836.6,1367.4L839.0,1368.6L839.0,1367.4L842.7,1369.2L842.7,1367.9L845.1,1369.1L845.1,1368.1L847.6,1369.3L847.6,1368.3L850.0,1369.5L850.0,1368.5L852.4,1369.7L852.4,1368.5L857.0,1370.2L857.3,1370.4L857.3,1369.0L876.8,1375.4L876.8,1374.0L898.8,1381.1L898.8,1379.7L912.2,1384.5L912.2,1383.3L914.6,1384.9L914.6,1384.0L917.1,1385.6L917.1,1384.6L919.5,1386.2L919.5,1385.0L932.9,1389.9L932.9,1388.5L941.5,1392.1L941.5,1390.7L948.8,1393.4L953.7,1395.1L953.7,1393.9L956.1,1395.5L956.1,1394.3L965.9,1398.0L965.9,1396.6L970.7,1399.2L970.7,1398.0L973.2,1399.6L973.2,1398.6L975.6,1400.2L975.6,1399.0L979.3,1401.2L979.3,1400.1L981.7,1401.6L981.7,1400.4L993.9,1404.7L993.9,1403.3L1000.0,1405.6L1004.9,1408.0L1004.9,1406.8L1007.3,1408.7L1007.3,1407.7L1009.8,1409.6L1009.8,1408.6L1012.2,1410.5L1012.2,1409.5L1014.6,1411.3L1014.6,1410.2L1020.7,1413.8L1020.7,1412.4L1037.8,1420.1L1037.8,1418.7L1053.7,1425.9L1053.7,1424.5L1067.1,1430.8L1067.1,1429.4L1091.5,1439.7L1091.5,1438.3L1091.5,1438.3L1107.3,1446.5L1107.3,1445.4L1109.8,1447.4L1109.8,1446.2L1169.5,1473.3L1169.5,1471.9L1213.4,1492.2L1213.4,1491.0L1215.9,1493.0L1215.9,1491.8L1223.2,1496.4L1223.2,1495.0L1243.9,1504.8L1256.1,1509.2L1256.1,1507.8L1268.3,1513.1L1268.3,1511.7L1303.7,1524.5L1303.7,1523.1L1319.5,1529.6L1319.5,1528.2L1320.0,1528.3L1363.4,1542.7L1363.4,1541.5L1365.9,1543.2L1365.9,1542.1L1374.4,1546.0L1374.4,1544.6L1381.0,1547.4L1386.6,1548.8L1386.6,1547.8L1387.8,1548.5L1387.8,1547.5L1400.0,1550.7L1400.0,1549.3L1415.9,1552.9L1415.9,1551.5L1430.5,1554.9L1430.5,1553.5L1436.6,1555.8L1436.6,1554.4L1443.9,1556.8L1443.9,1555.4L1457.3,1558.1L1468.3,1563.8L1468.3,1562.4L1476.8,1567.7L1476.8,1566.3L1498.8,1577.8L1498.8,1576.4L1500.0,1577.4L1502.4,1578.9L1502.4,1577.7L1504.9,1579.2L1504.9,1577.7L1514.6,1581.7L1514.6,1579.7L1535.4,1586.1L1535.4,1584.6L1537.8,1586.1L1537.8,1585.1L1538.0,1585.2L1540.2,1585.8L1540.2,1584.6L1543.9,1585.6L1543.9,1583.9L1550.7,1584.9L1551.2,1585.1L1551.2,1583.1L1573.2,1590.3L1573.2,1588.3L1592.7,1594.9L1592.7,1592.9L1604.6,1597.6L1605.0,1597.8L1605.0,1595.8L1645.8,1613.5L1647.5,1612.3L1647.5,1610.8L1650.0,1609.9L1650.0,1608.9L1652.2,1608.2L1652.5,1608.4L1652.5,1606.9L1674.4,1613.4L1676.2,1613.7L1676.2,1611.7L1683.8,1614.5L1683.8,1612.5L1693.8,1615.6L1693.8,1613.6L1713.8,1617.7L1713.8,1615.7L1733.8,1619.8L1733.8,1617.8L1734.6,1618.1L1741.2,1621.4L1741.2,1619.4L1785.4,1630.9L1787.5,1624.0L1787.5,1622.5L1790.0,1615.4L1790.0,1613.9L1791.7,1608.9L1796.2,1602.4L1796.2,1601.2L1797.5,1599.5L1797.5,1598.7L1800.0,1595.4L1800.0,1593.9L1804.4,1588.0L1805.0,1588.4L1805.0,1586.4L1851.9,1604.7L1896.2,1618.3L1896.2,1616.3L1896.3,1616.3L1899.5,1613.4L1918.5,1624.5L1920.0,1618.7L1920.0,1616.7L1921.7,1610.1L1940.7,1621.4L1941.2,1617.7L1941.2,1615.7L1942.3,1609.4L2001.0,1633.2L2001.6,1633.2" fill="none" stroke="#9aa542" stroke-width="3.8" stroke-linejoin="miter"/>
<path d="M419.6,1607.2L424.4,1615.0L425.4,1590.7L430.2,1589.8L431.2,1565.5L437.0,1564.5L438.0,1547.1L443.8,1548.0L444.8,1539.3L446.7,1539.3L447.7,1526.7L471.0,1536.4L472.0,1520.9L481.7,1524.8L483.6,1511.2L493.3,1516.0L495.2,1504.4L500.1,1505.4L503.0,1482.1L507.9,1480.1L509.8,1469.4L513.7,1450.0L516.6,1442.3L521.4,1438.4L529.2,1434.5L544.7,1430.6L546.7,1426.8L564.1,1421.9L567.0,1420.9L570.0,1409.3L575.8,1405.4L580.6,1401.5L587.4,1403.5L591.3,1391.8L601.0,1384.1L604.9,1370.5L610.7,1368.5L616.5,1362.7L622.3,1360.8L631.1,1359.8L639.8,1362.7L642.7,1351.1L649.5,1348.2L655.3,1345.2L661.2,1335.5L692.2,1348.2L696.1,1337.5L705.0,1336.5L706.3,1337.7L706.3,1334.7L735.6,1340.5L735.6,1337.5L751.5,1342.0L751.5,1340.1L753.9,1341.3L753.9,1340.3L756.3,1341.5L756.3,1339.5L766.0,1343.4L766.1,1343.5L766.1,1340.5L775.9,1342.8L775.9,1339.8L786.8,1342.0L786.8,1339.0L797.8,1341.2L797.8,1338.2L807.6,1340.6L807.6,1338.6L809.8,1339.4L809.8,1337.4L824.4,1339.4L824.4,1337.4L826.8,1338.2L826.8,1337.2L829.3,1338.0L829.3,1337.1L831.7,1337.9L831.7,1336.9L834.1,1337.7L834.1,1335.7L850.0,1336.8L850.0,1335.4L851.0,1335.4L869.5,1341.8L869.5,1340.4L873.2,1342.9L873.2,1341.5L876.8,1343.9L876.8,1342.5L908.5,1352.6L908.5,1351.2L919.5,1355.6L919.5,1354.2L934.1,1359.7L934.1,1358.3L948.8,1362.9L967.1,1369.1L967.1,1367.7L974.4,1371.3L974.4,1369.9L1000.0,1378.5L1007.3,1381.5L1007.3,1380.1L1020.7,1386.4L1020.7,1385.0L1048.8,1396.7L1048.8,1395.3L1054.9,1398.9L1054.9,1397.5L1067.1,1403.4L1067.1,1402.0L1091.5,1411.9L1104.9,1418.0L1104.9,1416.6L1112.2,1421.0L1112.2,1419.6L1122.0,1425.1L1122.0,1423.9L1124.4,1425.9L1124.4,1425.0L1126.8,1427.0L1126.8,1426.0L1129.3,1428.0L1129.3,1426.8L1134.1,1430.2L1134.1,1428.8L1169.5,1445.0L1169.5,1443.6L1213.4,1463.4L1213.4,1462.0L1243.9,1475.9L1250.0,1478.4L1250.0,1477.0L1258.5,1481.5L1258.5,1480.1L1269.5,1485.5L1269.5,1484.1L1320.0,1503.8L1320.7,1504.0L1320.7,1502.6L1345.1,1512.5L1345.1,1511.1L1380.5,1524.7L1380.5,1523.5L1381.0,1523.9L1382.9,1525.1L1382.9,1523.9L1386.6,1526.3L1386.6,1524.9L1390.2,1527.3L1390.2,1525.9L1401.2,1530.2L1401.2,1528.8L1428.0,1537.2L1428.0,1535.8L1435.4,1539.2L1435.4,1537.8L1453.7,1544.0L1453.7,1542.6L1468.3,1547.9L1468.3,1546.5L1500.0,1555.7L1519.0,1565.9L1522.0,1563.1L1522.0,1561.6L1524.4,1560.1L1524.4,1558.6L1525.4,1557.8L1536.6,1554.8L1536.6,1553.1L1540.2,1553.0L1540.2,1551.5L1543.9,1551.4L1543.9,1549.7L1547.6,1548.5L1560.2,1556.3L1562.2,1556.1L1562.2,1554.1L1574.4,1553.2L1574.4,1551.5L1578.0,1552.1L1578.0,1550.9L1580.5,1551.3L1580.5,1549.8L1580.8,1549.7L1604.6,1559.6L1605.0,1559.8L1605.0,1557.8L1682.3,1589.8L1683.8,1588.9L1683.8,1586.9L1690.2,1584.3L1693.8,1586.2L1693.8,1584.2L1733.0,1599.2L1735.0,1595.7L1735.0,1594.2L1737.5,1590.6L1737.5,1589.6L1740.0,1586.0L1740.0,1585.0L1742.5,1581.4L1742.5,1579.9L1742.5,1579.8L1775.8,1592.9L1776.2,1592.1L1776.2,1590.1L1779.0,1585.1L1787.5,1580.4L1787.5,1578.9L1790.0,1578.1L1790.0,1577.1L1792.5,1576.2L1792.5,1575.2L1795.0,1574.4L1795.0,1573.4L1797.5,1572.5L1797.5,1571.5L1800.0,1570.7L1800.0,1569.2L1802.8,1568.3L1805.0,1559.2L1805.0,1557.2L1806.0,1552.9L1855.1,1575.5L1856.2,1572.1L1856.2,1570.1L1858.3,1564.0L1939.1,1597.6L1940.7,1583.4L1941.2,1583.7L1941.2,1581.7L1959.7,1592.0L1997.8,1607.8L2000.3,1609.4" fill="none" stroke="#e2809a" stroke-width="3.8" stroke-linejoin="miter"/>
<path d="M416.6,1607.2L418.6,1585.9L422.5,1585.9L428.3,1566.5L432.2,1565.5L434.1,1551.0L443.8,1550.0L446.7,1489.8L453.5,1489.8L456.4,1479.2L467.1,1483.0L471.0,1471.4L476.8,1471.4L479.7,1453.9L490.4,1457.8L493.3,1448.1L500.1,1448.1L503.0,1431.6L513.7,1436.5L516.6,1427.7L531.1,1435.5L534.1,1427.7L544.7,1425.8L546.7,1417.1L554.4,1417.1L556.4,1407.3L564.1,1409.3L569.0,1386.0L583.5,1389.9L585.5,1386.0L606.8,1387.0L612.6,1384.1L624.3,1362.7L628.2,1364.7L653.4,1374.4L657.3,1373.4L669.9,1379.2L671.8,1368.5L690.3,1366.6L692.2,1361.7L705.0,1358.8L711.0,1358.5L711.2,1358.6L711.2,1355.6L727.1,1362.2L727.1,1359.2L731.6,1360.6L761.2,1371.6L761.2,1369.6L763.7,1371.2L763.7,1370.3L764.2,1370.6L766.1,1371.6L766.1,1369.6L784.4,1374.5L784.4,1371.5L790.0,1372.5L820.7,1387.5L820.7,1384.6L822.3,1385.8L828.0,1386.1L828.0,1384.1L830.5,1384.2L830.5,1383.2L832.9,1383.3L832.9,1382.3L835.4,1382.4L835.4,1381.4L837.8,1381.5L837.8,1379.5L840.4,1379.1L852.4,1383.5L852.4,1382.3L854.9,1383.9L854.9,1382.9L857.3,1384.4L857.3,1383.5L859.8,1385.0L859.8,1383.8L869.4,1386.8L876.8,1389.5L876.8,1388.1L887.8,1392.7L887.8,1391.3L897.6,1395.5L897.6,1394.1L913.0,1399.5L919.5,1401.3L919.5,1399.9L929.3,1403.5L929.3,1402.3L931.7,1403.8L931.7,1402.8L934.1,1404.3L934.1,1403.4L936.6,1404.9L936.6,1404.1L937.8,1404.9L937.8,1403.9L948.8,1407.4L952.4,1408.4L952.4,1407.0L961.0,1409.9L961.0,1408.8L963.4,1410.2L963.4,1409.2L965.9,1410.6L965.9,1409.6L968.3,1411.0L968.3,1409.9L980.5,1413.4L980.5,1412.0L998.8,1416.7L998.8,1415.5L1000.0,1416.2L1001.2,1417.1L1001.2,1416.2L1003.7,1418.0L1003.7,1417.0L1006.1,1418.8L1006.1,1417.9L1008.5,1419.7L1008.5,1418.7L1011.0,1420.5L1011.0,1419.3L1035.4,1429.3L1035.4,1428.1L1037.8,1429.9L1037.8,1428.7L1067.1,1440.3L1067.1,1438.9L1075.6,1443.3L1075.6,1442.1L1078.0,1444.0L1078.0,1443.0L1080.5,1444.8L1080.5,1443.8L1082.9,1445.7L1082.9,1444.5L1091.5,1447.9L1111.0,1457.1L1111.0,1455.7L1114.6,1458.6L1114.6,1457.2L1118.3,1460.1L1118.3,1458.7L1122.0,1461.7L1122.0,1460.3L1130.5,1465.2L1130.5,1463.8L1139.0,1468.8L1139.0,1467.6L1141.5,1469.6L1141.5,1468.5L1169.5,1481.6L1169.5,1480.2L1184.1,1487.8L1184.1,1486.4L1187.8,1489.3L1187.8,1487.9L1191.5,1490.9L1191.5,1489.5L1195.1,1492.4L1195.1,1491.0L1198.8,1493.9L1198.8,1492.5L1212.2,1499.6L1212.2,1498.4L1214.6,1500.4L1214.6,1499.2L1223.2,1504.2L1223.2,1502.8L1234.1,1508.8L1234.1,1507.4L1243.9,1512.1L1256.1,1516.8L1256.1,1515.4L1267.1,1520.3L1267.1,1519.1L1269.5,1520.9L1269.5,1519.7L1280.5,1524.6L1280.5,1523.2L1290.2,1527.8L1290.2,1526.4L1298.8,1530.5L1298.8,1529.1L1320.0,1537.2L1322.0,1538.0L1322.0,1536.6L1330.5,1540.8L1330.5,1539.4L1365.9,1552.3L1370.7,1553.8L1370.7,1552.4L1380.5,1556.6L1380.5,1555.2L1396.3,1560.3L1414.6,1567.8L1414.6,1566.4L1460.0,1584.7L1461.0,1584.7L1461.0,1583.3L1468.3,1585.0L1468.3,1583.6L1475.6,1585.3L1475.6,1583.9L1491.5,1586.0L1491.5,1584.6L1500.0,1585.7L1507.3,1589.0L1507.3,1587.0L1523.2,1594.2L1523.2,1592.2L1568.2,1608.8L1568.3,1608.8L1568.3,1606.8L1578.0,1609.7L1578.0,1607.7L1598.8,1611.5L1598.8,1609.7L1602.5,1611.5L1602.5,1609.8L1604.6,1610.2L1606.2,1602.5L1621.2,1607.6L1621.2,1605.6L1638.8,1611.8L1638.8,1609.8L1639.5,1610.1L1648.8,1604.3L1648.8,1602.3L1649.0,1602.1L1668.8,1603.1L1668.8,1601.6L1671.2,1602.5L1671.2,1601.0L1678.8,1602.6L1678.8,1600.6L1680.7,1600.7L1702.5,1608.7L1702.5,1606.7L1702.9,1606.8L1706.1,1600.7L1737.8,1614.8L1745.0,1617.4L1745.0,1615.4L1782.2,1629.4L1782.5,1628.1L1782.5,1626.1L1785.4,1615.1L1798.0,1608.7L1798.8,1609.1L1798.8,1607.1L1845.6,1627.7L1847.5,1617.3L1847.5,1615.3L1848.8,1608.5L1875.0,1619.1L1875.0,1617.1L1877.3,1618.5L1882.1,1596.0L1882.5,1596.2L1882.5,1594.2L1912.2,1605.3L1918.8,1607.8L1918.8,1605.8L1998.8,1633.5L1998.8,1631.5L2001.0,1633.2L2002.5,1607.8L2004.1,1607.8" fill="none" stroke="#a096ee" stroke-width="3.8" stroke-linejoin="miter"/>
<path d="M416.6,1607.2L416.6,1426.8L426.3,1427.7L428.3,1407.3L432.2,1407.3L433.1,1372.4L437.0,1372.4L439.0,1355.0L439.9,1323.9L456.4,1328.8L457.4,1317.1L463.2,1316.1L464.2,1296.7L469.0,1285.1L474.9,1285.1L475.8,1265.7L479.7,1263.7L481.7,1245.3L515.6,1257.9L517.6,1250.2L532.1,1256.0L534.1,1250.2L548.6,1254.0L551.5,1236.6L556.4,1230.8L560.2,1225.9L564.1,1225.9L579.7,1232.7L584.5,1218.1L619.4,1231.7L622.3,1227.8L639.8,1234.6L641.8,1225.9L649.5,1225.9L686.4,1240.5L688.3,1238.5L705.0,1243.4L744.1,1251.5L744.1,1249.6L746.6,1251.2L746.6,1250.3L749.0,1252.0L749.0,1250.0L763.7,1257.3L763.7,1254.3L765.9,1255.7L772.2,1259.2L772.2,1257.2L774.6,1258.7L774.6,1257.7L777.1,1259.2L777.1,1258.2L779.5,1259.7L779.5,1257.7L800.2,1264.9L800.2,1263.2L801.2,1263.8L801.2,1263.3L802.4,1264.1L802.4,1263.8L802.7,1263.9L802.7,1262.4L836.6,1272.2L836.6,1269.2L850.0,1274.1L850.0,1273.2L851.2,1273.9L851.2,1272.9L857.3,1274.4L882.9,1283.3L882.9,1281.9L891.5,1285.9L891.5,1284.5L895.1,1287.0L895.1,1285.6L898.8,1288.1L898.8,1286.7L939.0,1300.2L939.0,1298.8L948.8,1302.7L954.9,1305.6L954.9,1304.2L1000.0,1323.5L1013.4,1329.4L1013.4,1328.0L1078.0,1356.4L1078.0,1355.0L1091.5,1362.0L1091.5,1360.6L1091.5,1360.6L1100.0,1365.6L1100.0,1364.2L1141.5,1383.0L1141.5,1381.6L1170.7,1395.4L1170.7,1394.0L1243.9,1426.1L1250.0,1428.4L1250.0,1427.0L1265.9,1434.0L1265.9,1432.6L1273.2,1436.7L1273.2,1435.3L1281.7,1439.7L1281.7,1438.3L1298.8,1445.8L1298.8,1444.4L1313.4,1451.1L1313.4,1449.7L1320.0,1452.2L1365.9,1468.3L1365.9,1466.9L1380.5,1473.1L1380.5,1471.7L1381.0,1471.9L1401.2,1479.8L1401.2,1478.4L1423.2,1486.9L1423.2,1486.0L1424.4,1486.9L1424.4,1485.9L1440.2,1492.5L1440.2,1491.1L1463.4,1500.0L1463.4,1498.6L1482.9,1506.3L1482.9,1504.9L1500.0,1511.2L1514.6,1513.7L1514.6,1511.7L1523.2,1514.7L1523.2,1513.2L1525.6,1514.4L1525.6,1513.2L1528.5,1514.7L1529.3,1514.6L1529.3,1512.9L1531.7,1512.0L1543.9,1518.3L1543.9,1516.3L1544.4,1516.5L1566.6,1526.3L1568.3,1526.9L1568.3,1524.9L1601.5,1537.4L1602.5,1537.8L1602.5,1535.8L1661.7,1559.6L1664.9,1557.4L1665.0,1557.5L1665.0,1555.5L1699.7,1570.6L1701.2,1569.5L1701.2,1567.5L1702.9,1566.3L1741.0,1583.7L1794.9,1607.0L1798.0,1605.8L1807.5,1604.0L1808.8,1604.6L1808.8,1602.6L1845.6,1619.8L1848.8,1610.4L1848.8,1608.4L1848.8,1608.4L1855.0,1611.2L1855.0,1609.2L1874.1,1612.3L1902.7,1627.7L1905.0,1617.3L1905.0,1615.8L1907.5,1605.5L1907.5,1604.5L1909.0,1598.4L1910.0,1598.4L1910.0,1596.9L1918.5,1594.6L1940.7,1605.5L1942.5,1602.4L1942.5,1600.4L1943.9,1598.1L1959.7,1605.4L1962.5,1593.2L1962.5,1591.2L1962.9,1590.4L1997.8,1604.6L1999.4,1609.4L2000.3,1609.4" fill="none" stroke="#28b4a8" stroke-width="3.8" stroke-linejoin="miter"/>
<path d="M417.3,1655V1695M419.8,1655V1695M425.9,1655V1695M438.0,1655V1695M440.5,1655V1695M446.6,1655V1695M453.9,1655V1695M456.3,1655V1695M458.8,1655V1695M483.2,1655V1695M494.1,1655V1695M502.7,1655V1695M505.1,1655V1695M507.6,1655V1695M513.7,1655V1695M516.1,1655V1695M518.5,1655V1695M521.0,1655V1695M523.4,1655V1695M525.9,1655V1695M528.3,1655V1695M530.7,1655V1695M533.2,1655V1695M535.6,1655V1695M546.6,1655V1695M553.9,1655V1695M556.3,1655V1695M558.8,1655V1695M562.4,1655V1695M569.8,1655V1695M572.2,1655V1695M592.9,1655V1695M595.4,1655V1695M597.8,1655V1695M600.2,1655V1695M602.7,1655V1695M605.1,1655V1695M607.6,1655V1695M618.5,1655V1695M621.0,1655V1695M623.4,1655V1695M625.9,1655V1695M628.3,1655V1695M644.1,1655V1695M646.6,1655V1695M649.0,1655V1695M651.5,1655V1695M653.9,1655V1695M656.3,1655V1695M658.8,1655V1695M661.2,1655V1695M671.0,1655V1695M678.3,1655V1695M688.0,1655V1695M690.5,1655V1695M701.5,1655V1695M736.8,1655V1695M739.3,1655V1695M741.7,1655V1695M745.4,1655V1695M749.0,1655V1695M752.7,1655V1695M756.3,1655V1695M761.2,1655V1695M764.9,1655V1695M768.5,1655V1695M773.4,1655V1695M775.9,1655V1695M779.5,1655V1695M791.7,1655V1695M794.1,1655V1695M797.8,1655V1695M800.2,1655V1695M812.2,1655V1695M822.0,1655V1695M834.1,1655V1695M836.6,1655V1695M839.0,1655V1695M842.7,1655V1695M845.1,1655V1695M847.6,1655V1695M850.0,1655V1695M852.4,1655V1695M857.3,1655V1695M876.8,1655V1695M898.8,1655V1695M912.2,1655V1695M914.6,1655V1695M917.1,1655V1695M919.5,1655V1695M932.9,1655V1695M941.5,1655V1695M953.7,1655V1695M956.1,1655V1695M965.9,1655V1695M970.7,1655V1695M973.2,1655V1695M975.6,1655V1695M979.3,1655V1695M981.7,1655V1695M993.9,1655V1695M1004.9,1655V1695M1007.3,1655V1695M1009.8,1655V1695M1012.2,1655V1695M1014.6,1655V1695M1020.7,1655V1695M1037.8,1655V1695M1053.7,1655V1695M1067.1,1655V1695M1091.5,1655V1695M1107.3,1655V1695M1109.8,1655V1695M1169.5,1655V1695M1213.4,1655V1695M1215.9,1655V1695M1223.2,1655V1695M1256.1,1655V1695M1268.3,1655V1695M1303.7,1655V1695M1319.5,1655V1695M1363.4,1655V1695M1365.9,1655V1695M1374.4,1655V1695M1386.6,1655V1695M1387.8,1655V1695M1400.0,1655V1695M1415.9,1655V1695M1430.5,1655V1695M1436.6,1655V1695M1443.9,1655V1695M1468.3,1655V1695M1476.8,1655V1695M1498.8,1655V1695M1502.4,1655V1695M1504.9,1655V1695M1514.6,1655V1695M1535.4,1655V1695M1537.8,1655V1695M1540.2,1655V1695M1543.9,1655V1695M1551.2,1655V1695M1573.2,1655V1695M1592.7,1655V1695M1605.0,1655V1695M1647.5,1655V1695M1650.0,1655V1695M1652.5,1655V1695M1676.2,1655V1695M1683.8,1655V1695M1693.8,1655V1695M1713.8,1655V1695M1733.8,1655V1695M1741.2,1655V1695M1787.5,1655V1695M1790.0,1655V1695M1796.2,1655V1695M1797.5,1655V1695M1800.0,1655V1695M1805.0,1655V1695M1896.2,1655V1695M1920.0,1655V1695M1941.2,1655V1695M2001.2,1655V1695" stroke="#9aa542" stroke-width="2.2" stroke-opacity="0.75" fill="none"/>
<path d="M419.8,1695V1735M428.3,1695V1735M430.7,1695V1735M433.2,1695V1735M440.5,1695V1735M442.9,1695V1735M445.4,1695V1735M447.8,1695V1735M457.6,1695V1735M469.8,1695V1735M475.9,1695V1735M478.3,1695V1735M480.7,1695V1735M494.1,1695V1735M502.7,1695V1735M517.3,1695V1735M533.2,1695V1735M541.7,1695V1735M544.1,1695V1735M556.3,1695V1735M567.3,1695V1735M569.8,1695V1735M585.6,1695V1735M596.6,1695V1735M606.3,1695V1735M612.4,1695V1735M614.9,1695V1735M617.3,1695V1735M619.8,1695V1735M622.2,1695V1735M624.6,1695V1735M653.9,1695V1735M671.0,1695V1735M679.5,1695V1735M689.3,1695V1735M695.4,1695V1735M697.8,1695V1735M700.2,1695V1735M711.2,1695V1735M727.1,1695V1735M761.2,1695V1735M763.7,1695V1735M766.1,1695V1735M784.4,1695V1735M820.7,1695V1735M828.0,1695V1735M830.5,1695V1735M832.9,1695V1735M835.4,1695V1735M837.8,1695V1735M852.4,1695V1735M854.9,1695V1735M857.3,1695V1735M859.8,1695V1735M876.8,1695V1735M887.8,1695V1735M897.6,1695V1735M919.5,1695V1735M929.3,1695V1735M931.7,1695V1735M934.1,1695V1735M936.6,1695V1735M937.8,1695V1735M952.4,1695V1735M961.0,1695V1735M963.4,1695V1735M965.9,1695V1735M968.3,1695V1735M980.5,1695V1735M998.8,1695V1735M1001.2,1695V1735M1003.7,1695V1735M1006.1,1695V1735M1008.5,1695V1735M1011.0,1695V1735M1035.4,1695V1735M1037.8,1695V1735M1067.1,1695V1735M1075.6,1695V1735M1078.0,1695V1735M1080.5,1695V1735M1082.9,1695V1735M1111.0,1695V1735M1114.6,1695V1735M1118.3,1695V1735M1122.0,1695V1735M1130.5,1695V1735M1139.0,1695V1735M1141.5,1695V1735M1169.5,1695V1735M1184.1,1695V1735M1187.8,1695V1735M1191.5,1695V1735M1195.1,1695V1735M1198.8,1695V1735M1212.2,1695V1735M1214.6,1695V1735M1223.2,1695V1735M1234.1,1695V1735M1256.1,1695V1735M1267.1,1695V1735M1269.5,1695V1735M1280.5,1695V1735M1290.2,1695V1735M1298.8,1695V1735M1322.0,1695V1735M1330.5,1695V1735M1370.7,1695V1735M1380.5,1695V1735M1414.6,1695V1735M1461.0,1695V1735M1468.3,1695V1735M1475.6,1695V1735M1491.5,1695V1735M1507.3,1695V1735M1523.2,1695V1735M1568.3,1695V1735M1578.0,1695V1735M1598.8,1695V1735M1602.5,1695V1735M1621.2,1695V1735M1638.8,1695V1735M1648.8,1695V1735M1668.8,1695V1735M1671.2,1695V1735M1678.8,1695V1735M1702.5,1695V1735M1745.0,1695V1735M1782.5,1695V1735M1798.8,1695V1735M1847.5,1695V1735M1875.0,1695V1735M1882.5,1695V1735M1918.8,1695V1735M1998.8,1695V1735" stroke="#a79cf0" stroke-width="2.2" stroke-opacity="0.75" fill="none"/>
<path d="M425.9,1735V1775M428.3,1735V1775M430.7,1735V1775M433.2,1735V1775M439.3,1735V1775M446.6,1735V1775M472.2,1735V1775M484.4,1735V1775M494.1,1735V1775M497.8,1735V1775M502.7,1735V1775M506.3,1735V1775M508.8,1735V1775M511.2,1735V1775M513.7,1735V1775M521.0,1735V1775M528.3,1735V1775M530.7,1735V1775M533.2,1735V1775M546.6,1735V1775M556.3,1735V1775M569.8,1735V1775M579.5,1735V1775M589.3,1735V1775M591.7,1735V1775M595.4,1735V1775M597.8,1735V1775M600.2,1735V1775M602.7,1735V1775M605.1,1735V1775M607.6,1735V1775M614.9,1735V1775M621.0,1735V1775M632.0,1735V1775M642.9,1735V1775M645.4,1735V1775M653.9,1735V1775M656.3,1735V1775M660.0,1735V1775M694.1,1735V1775M696.6,1735V1775M706.3,1735V1775M735.6,1735V1775M751.5,1735V1775M753.9,1735V1775M756.3,1735V1775M766.1,1735V1775M775.9,1735V1775M786.8,1735V1775M797.8,1735V1775M807.6,1735V1775M809.8,1735V1775M824.4,1735V1775M826.8,1735V1775M829.3,1735V1775M831.7,1735V1775M834.1,1735V1775M850.0,1735V1775M869.5,1735V1775M873.2,1735V1775M876.8,1735V1775M908.5,1735V1775M919.5,1735V1775M934.1,1735V1775M967.1,1735V1775M974.4,1735V1775M1007.3,1735V1775M1020.7,1735V1775M1048.8,1735V1775M1054.9,1735V1775M1067.1,1735V1775M1104.9,1735V1775M1112.2,1735V1775M1122.0,1735V1775M1124.4,1735V1775M1126.8,1735V1775M1129.3,1735V1775M1134.1,1735V1775M1169.5,1735V1775M1213.4,1735V1775M1250.0,1735V1775M1258.5,1735V1775M1269.5,1735V1775M1320.7,1735V1775M1345.1,1735V1775M1380.5,1735V1775M1382.9,1735V1775M1386.6,1735V1775M1390.2,1735V1775M1401.2,1735V1775M1428.0,1735V1775M1435.4,1735V1775M1453.7,1735V1775M1468.3,1735V1775M1522.0,1735V1775M1524.4,1735V1775M1536.6,1735V1775M1540.2,1735V1775M1543.9,1735V1775M1562.2,1735V1775M1574.4,1735V1775M1578.0,1735V1775M1580.5,1735V1775M1605.0,1735V1775M1683.8,1735V1775M1693.8,1735V1775M1735.0,1735V1775M1737.5,1735V1775M1740.0,1735V1775M1742.5,1735V1775M1776.2,1735V1775M1787.5,1735V1775M1790.0,1735V1775M1792.5,1735V1775M1795.0,1735V1775M1797.5,1735V1775M1800.0,1735V1775M1805.0,1735V1775M1856.2,1735V1775M1941.2,1735V1775" stroke="#e2809a" stroke-width="2.2" stroke-opacity="0.75" fill="none"/>
<path d="M416.1,1775V1815M417.3,1775V1815M418.5,1775V1815M428.3,1775V1815M430.7,1775V1815M433.2,1775V1815M435.6,1775V1815M438.0,1775V1815M440.5,1775V1815M456.3,1775V1815M462.4,1775V1815M464.9,1775V1815M467.3,1775V1815M475.9,1775V1815M478.3,1775V1815M480.7,1775V1815M483.2,1775V1815M517.3,1775V1815M534.4,1775V1815M549.0,1775V1815M551.5,1775V1815M553.9,1775V1815M556.3,1775V1815M558.8,1775V1815M561.2,1775V1815M580.7,1775V1815M583.2,1775V1815M622.2,1775V1815M640.5,1775V1815M642.9,1775V1815M649.0,1775V1815M686.8,1775V1815M702.7,1775V1815M744.1,1775V1815M746.6,1775V1815M749.0,1775V1815M763.7,1775V1815M772.2,1775V1815M774.6,1775V1815M777.1,1775V1815M779.5,1775V1815M800.2,1775V1815M801.2,1775V1815M802.4,1775V1815M802.7,1775V1815M836.6,1775V1815M850.0,1775V1815M851.2,1775V1815M882.9,1775V1815M891.5,1775V1815M895.1,1775V1815M898.8,1775V1815M939.0,1775V1815M954.9,1775V1815M1013.4,1775V1815M1078.0,1775V1815M1091.5,1775V1815M1100.0,1775V1815M1141.5,1775V1815M1170.7,1775V1815M1250.0,1775V1815M1265.9,1775V1815M1273.2,1775V1815M1281.7,1775V1815M1298.8,1775V1815M1313.4,1775V1815M1365.9,1775V1815M1380.5,1775V1815M1401.2,1775V1815M1423.2,1775V1815M1424.4,1775V1815M1440.2,1775V1815M1463.4,1775V1815M1482.9,1775V1815M1514.6,1775V1815M1523.2,1775V1815M1525.6,1775V1815M1529.3,1775V1815M1543.9,1775V1815M1568.3,1775V1815M1602.5,1775V1815M1665.0,1775V1815M1701.2,1775V1815M1808.8,1775V1815M1848.8,1775V1815M1855.0,1775V1815M1905.0,1775V1815M1907.5,1775V1815M1910.0,1775V1815M1942.5,1775V1815M1962.5,1775V1815" stroke="#2ab5a6" stroke-width="2.2" stroke-opacity="0.75" fill="none"/>
<path d="M415.6,1935.0L415.6,1861.7L417.2,1864.2L420.0,1874.5L423.3,1885.2L428.0,1895.1L435.5,1903.3L442.0,1907.9L450.7,1911.1L466.0,1915.8L480.0,1918.6L496.5,1921.1L525.0,1923.6L557.4,1925.4L618.4,1927.9L710.0,1930.0L905.0,1931.8L1100.0,1933.2L1300.0,1935.0L1437.0,1937.8L1574.4,1940.0L1680.0,1942.8L1767.4,1946.0L1894.5,1954.9L1940.0,1959.9L1963.0,1964.2L1986.0,1975.6L1995.0,1988.4L1999.7,2003.0L2004.0,2027.6L2008.0,2055.7L2008,1935.0Z" fill="#bababa" stroke="none"/>
<line x1="415.6" y1="1935.0" x2="2008.0" y2="1935.0" stroke="#b0b0b0" stroke-width="1.5" />
<line x1="415.6" y1="1198.0" x2="415.6" y2="2069.3" stroke="#2b2b2b" stroke-width="2.8" />
<line x1="414.2" y1="2068.0" x2="2008.0" y2="2068.0" stroke="#2b2b2b" stroke-width="2.8" />
<line x1="409.0" y1="1215.7" x2="415.6" y2="1215.7" stroke="#2b2b2b" stroke-width="2" />
<text transform="translate(403.5,1222.9) scale(1,1.025)" font-size="20.5" text-anchor="end" fill="#7a7a7a" stroke="#7a7a7a" stroke-width="0.5" >0.6</text>
<line x1="409.0" y1="1347.2" x2="415.6" y2="1347.2" stroke="#2b2b2b" stroke-width="2" />
<text transform="translate(403.5,1354.4) scale(1,1.025)" font-size="20.5" text-anchor="end" fill="#7a7a7a" stroke="#7a7a7a" stroke-width="0.5" >0.4</text>
<line x1="409.0" y1="1478.8" x2="415.6" y2="1478.8" stroke="#2b2b2b" stroke-width="2" />
<text transform="translate(403.5,1486.0) scale(1,1.025)" font-size="20.5" text-anchor="end" fill="#7a7a7a" stroke="#7a7a7a" stroke-width="0.5" >0.2</text>
<line x1="409.0" y1="1610.3" x2="415.6" y2="1610.3" stroke="#2b2b2b" stroke-width="2" />
<text transform="translate(403.5,1617.5) scale(1,1.025)" font-size="20.5" text-anchor="end" fill="#7a7a7a" stroke="#7a7a7a" stroke-width="0.5" >0.0</text>
<line x1="409.0" y1="1863.8" x2="415.6" y2="1863.8" stroke="#2b2b2b" stroke-width="2" />
<text transform="translate(403.5,1871.0) scale(1,1.025)" font-size="20.5" text-anchor="end" fill="#7a7a7a" stroke="#7a7a7a" stroke-width="0.5" >2</text>
<line x1="409.0" y1="1935.0" x2="415.6" y2="1935.0" stroke="#2b2b2b" stroke-width="2" />
<text transform="translate(403.5,1942.2) scale(1,1.025)" font-size="20.5" text-anchor="end" fill="#7a7a7a" stroke="#7a7a7a" stroke-width="0.5" >0</text>
<line x1="409.0" y1="2006.2" x2="415.6" y2="2006.2" stroke="#2b2b2b" stroke-width="2" />
<text transform="translate(403.5,2013.4) scale(1,1.025)" font-size="20.5" text-anchor="end" fill="#7a7a7a" stroke="#7a7a7a" stroke-width="0.5" >−2</text>
<line x1="865.8" y1="2068.0" x2="865.8" y2="2074.0" stroke="#2b2b2b" stroke-width="2" />
<text transform="translate(865.8,2093.8) scale(1,1.025)" font-size="21" text-anchor="middle" fill="#7a7a7a" stroke="#7a7a7a" stroke-width="0.5" >5000</text>
<line x1="1316.6" y1="2068.0" x2="1316.6" y2="2074.0" stroke="#2b2b2b" stroke-width="2" />
<text transform="translate(1316.6,2093.8) scale(1,1.025)" font-size="21" text-anchor="middle" fill="#7a7a7a" stroke="#7a7a7a" stroke-width="0.5" >10000</text>
<line x1="1767.4" y1="2068.0" x2="1767.4" y2="2074.0" stroke="#2b2b2b" stroke-width="2" />
<text transform="translate(1767.4,2093.8) scale(1,1.025)" font-size="21" text-anchor="middle" fill="#7a7a7a" stroke="#7a7a7a" stroke-width="0.5" >15000</text>
<text transform="translate(1211.0,2121.0) scale(1,1.025)" font-size="25.5" text-anchor="middle" fill="#1a1a1a" stroke="#1a1a1a" stroke-width="0.5" >Rank in Ordered Dataset</text>
<text transform="translate(361.0,1426.0) rotate(-90) scale(1,1.025)" font-size="24.3" text-anchor="middle" fill="#1a1a1a" stroke="#1a1a1a" stroke-width="0.5" >Running Enrichment Score</text>
<text transform="translate(361.0,1940.0) rotate(-90) scale(1,1.025)" font-size="24.3" text-anchor="middle" fill="#1a1a1a" stroke="#1a1a1a" stroke-width="0.5" >Ranked list metric</text>
<text transform="translate(46.5,2218.0) scale(1,1.025)" font-size="66" text-anchor="start" fill="#000" stroke="#000" stroke-width="0.3" font-weight="bold" >D</text>
<text transform="translate(527.5,2220.0) scale(1,1.025)" font-size="56" text-anchor="middle" fill="#000" stroke="#000" stroke-width="0.3" font-weight="bold" >Innate</text>
<text transform="translate(244.0,2481.5) rotate(-45) scale(1,1.025)" font-size="34" text-anchor="start" fill="#111" stroke="#111" stroke-width="0.5" >Resting NK cell</text>
<text transform="translate(312.2,2481.5) rotate(-45) scale(1,1.025)" font-size="34" text-anchor="start" fill="#111" stroke="#111" stroke-width="0.5" >Activated NK cell</text>
<text transform="translate(380.3,2481.5) rotate(-45) scale(1,1.025)" font-size="34" text-anchor="start" fill="#111" stroke="#111" stroke-width="0.5" >Monocyte</text>
<text transform="translate(448.5,2481.5) rotate(-45) scale(1,1.025)" font-size="34" text-anchor="start" fill="#111" stroke="#111" stroke-width="0.5" >Macrophage M0</text>
<text transform="translate(516.6,2481.5) rotate(-45) scale(1,1.025)" font-size="34" text-anchor="start" fill="#111" stroke="#111" stroke-width="0.5" >Macrophage M1</text>
<text transform="translate(584.8,2481.5) rotate(-45) scale(1,1.025)" font-size="34" text-anchor="start" fill="#111" stroke="#111" stroke-width="0.5" >Macrophage M2</text>
<text transform="translate(653.0,2481.5) rotate(-45) scale(1,1.025)" font-size="34" text-anchor="start" fill="#111" stroke="#111" stroke-width="0.5" >Activated myeloid dendritic cell</text>
<text transform="translate(721.1,2481.5) rotate(-45) scale(1,1.025)" font-size="34" text-anchor="start" fill="#111" stroke="#111" stroke-width="0.5" >Resting myeloid dendritic cell</text>
<text transform="translate(789.3,2481.5) rotate(-45) scale(1,1.025)" font-size="34" text-anchor="start" fill="#111" stroke="#111" stroke-width="0.5" >Activated mast cell</text>
<text transform="translate(857.4,2481.5) rotate(-45) scale(1,1.025)" font-size="34" text-anchor="start" fill="#111" stroke="#111" stroke-width="0.5" >Resting mast cell</text>
<text transform="translate(925.6,2481.5) rotate(-45) scale(1,1.025)" font-size="34" text-anchor="start" fill="#111" stroke="#111" stroke-width="0.5" >Eosinophil</text>
<text transform="translate(993.8,2481.5) rotate(-45) scale(1,1.025)" font-size="34" text-anchor="start" fill="#111" stroke="#111" stroke-width="0.5" >Neutrophil</text>
<rect x="282.1" y="2497.9" width="66.2" height="64.2" fill="#fff" stroke="#b9b9b9" stroke-width="2"/><rect x="348.2" y="2497.9" width="66.2" height="64.2" fill="#fff" stroke="#b9b9b9" stroke-width="2"/><rect x="414.4" y="2497.9" width="66.2" height="64.2" fill="#fff" stroke="#b9b9b9" stroke-width="2"/><rect x="480.5" y="2497.9" width="66.2" height="64.2" fill="#fff" stroke="#b9b9b9" stroke-width="2"/><rect x="546.6" y="2497.9" width="66.2" height="64.2" fill="#fff" stroke="#b9b9b9" stroke-width="2"/><rect x="612.8" y="2497.9" width="66.2" height="64.2" fill="#fff" stroke="#b9b9b9" stroke-width="2"/><rect x="679.0" y="2497.9" width="66.2" height="64.2" fill="#fff" stroke="#b9b9b9" stroke-width="2"/><rect x="745.1" y="2497.9" width="66.2" height="64.2" fill="#fff" stroke="#b9b9b9" stroke-width="2"/><rect x="811.2" y="2497.9" width="66.2" height="64.2" fill="#fff" stroke="#b9b9b9" stroke-width="2"/><rect x="877.4" y="2497.9" width="66.2" height="64.2" fill="#fff" stroke="#b9b9b9" stroke-width="2"/><rect x="943.6" y="2497.9" width="66.2" height="64.2" fill="#fff" stroke="#b9b9b9" stroke-width="2"/><rect x="348.2" y="2562.1" width="66.2" height="64.2" fill="#fff" stroke="#b9b9b9" stroke-width="2"/><rect x="414.4" y="2562.1" width="66.2" height="64.2" fill="#fff" stroke="#b9b9b9" stroke-width="2"/><rect x="480.5" y="2562.1" width="66.2" height="64.2" fill="#fff" stroke="#b9b9b9" stroke-width="2"/><rect x="546.6" y="2562.1" width="66.2" height="64.2" fill="#fff" stroke="#b9b9b9" stroke-width="2"/><rect x="612.8" y="2562.1" width="66.2" height="64.2" fill="#fff" stroke="#b9b9b9" stroke-width="2"/><rect x="679.0" y="2562.1" width="66.2" height="64.2" fill="#fff" stroke="#b9b9b9" stroke-width="2"/><rect x="745.1" y="2562.1" width="66.2" height="64.2" fill="#fff" stroke="#b9b9b9" stroke-width="2"/><rect x="811.2" y="2562.1" width="66.2" height="64.2" fill="#fff" stroke="#b9b9b9" stroke-width="2"/><rect x="877.4" y="2562.1" width="66.2" height="64.2" fill="#fff" stroke="#b9b9b9" stroke-width="2"/><rect x="943.6" y="2562.1" width="66.2" height="64.2" fill="#fff" stroke="#b9b9b9" stroke-width="2"/><rect x="414.4" y="2626.4" width="66.2" height="64.2" fill="#fff" stroke="#b9b9b9" stroke-width="2"/><rect x="480.5" y="2626.4" width="66.2" height="64.2" fill="#fff" stroke="#b9b9b9" stroke-width="2"/><rect x="546.6" y="2626.4" width="66.2" height="64.2" fill="#fff" stroke="#b9b9b9" stroke-width="2"/><rect x="612.8" y="2626.4" width="66.2" height="64.2" fill="#fff" stroke="#b9b9b9" stroke-width="2"/><rect x="679.0" y="2626.4" width="66.2" height="64.2" fill="#fff" stroke="#b9b9b9" stroke-width="2"/><rect x="745.1" y="2626.4" width="66.2" height="64.2" fill="#fff" stroke="#b9b9b9" stroke-width="2"/><rect x="811.2" y="2626.4" width="66.2" height="64.2" fill="#fff" stroke="#b9b9b9" stroke-width="2"/><rect x="877.4" y="2626.4" width="66.2" height="64.2" fill="#fff" stroke="#b9b9b9" stroke-width="2"/><rect x="943.6" y="2626.4" width="66.2" height="64.2" fill="#fff" stroke="#b9b9b9" stroke-width="2"/><rect x="480.5" y="2690.6" width="66.2" height="64.2" fill="#fff" stroke="#b9b9b9" stroke-width="2"/><rect x="546.6" y="2690.6" width="66.2" height="64.2" fill="#fff" stroke="#b9b9b9" stroke-width="2"/><rect x="612.8" y="2690.6" width="66.2" height="64.2" fill="#fff" stroke="#b9b9b9" stroke-width="2"/><rect x="679.0" y="2690.6" width="66.2" height="64.2" fill="#fff" stroke="#b9b9b9" stroke-width="2"/><rect x="745.1" y="2690.6" width="66.2" height="64.2" fill="#fff" stroke="#b9b9b9" stroke-width="2"/><rect x="811.2" y="2690.6" width="66.2" height="64.2" fill="#fff" stroke="#b9b9b9" stroke-width="2"/><rect x="877.4" y="2690.6" width="66.2" height="64.2" fill="#fff" stroke="#b9b9b9" stroke-width="2"/><rect x="943.6" y="2690.6" width="66.2" height="64.2" fill="#fff" stroke="#b9b9b9" stroke-width="2"/><rect x="546.6" y="2754.9" width="66.2" height="64.2" fill="#fff" stroke="#b9b9b9" stroke-width="2"/><rect x="612.8" y="2754.9" width="66.2" height="64.2" fill="#fff" stroke="#b9b9b9" stroke-width="2"/><rect x="679.0" y="2754.9" width="66.2" height="64.2" fill="#fff" stroke="#b9b9b9" stroke-width="2"/><rect x="745.1" y="2754.9" width="66.2" height="64.2" fill="#fff" stroke="#b9b9b9" stroke-width="2"/><rect x="811.2" y="2754.9" width="66.2" height="64.2" fill="#fff" stroke="#b9b9b9" stroke-width="2"/><rect x="877.4" y="2754.9" width="66.2" height="64.2" fill="#fff" stroke="#b9b9b9" stroke-width="2"/><rect x="943.6" y="2754.9" width="66.2" height="64.2" fill="#fff" stroke="#b9b9b9" stroke-width="2"/><rect x="612.8" y="2819.1" width="66.2" height="64.2" fill="#fff" stroke="#b9b9b9" stroke-width="2"/><rect x="679.0" y="2819.1" width="66.2" height="64.2" fill="#fff" stroke="#b9b9b9" stroke-width="2"/><rect x="745.1" y="2819.1" width="66.2" height="64.2" fill="#fff" stroke="#b9b9b9" stroke-width="2"/><rect x="811.2" y="2819.1" width="66.2" height="64.2" fill="#fff" stroke="#b9b9b9" stroke-width="2"/><rect x="877.4" y="2819.1" width="66.2" height="64.2" fill="#fff" stroke="#b9b9b9" stroke-width="2"/><rect x="943.6" y="2819.1" width="66.2" height="64.2" fill="#fff" stroke="#b9b9b9" stroke-width="2"/><rect x="679.0" y="2883.3" width="66.2" height="64.2" fill="#fff" stroke="#b9b9b9" stroke-width="2"/><rect x="745.1" y="2883.3" width="66.2" height="64.2" fill="#fff" stroke="#b9b9b9" stroke-width="2"/><rect x="811.2" y="2883.3" width="66.2" height="64.2" fill="#fff" stroke="#b9b9b9" stroke-width="2"/><rect x="877.4" y="2883.3" width="66.2" height="64.2" fill="#fff" stroke="#b9b9b9" stroke-width="2"/><rect x="943.6" y="2883.3" width="66.2" height="64.2" fill="#fff" stroke="#b9b9b9" stroke-width="2"/><rect x="745.1" y="2947.6" width="66.2" height="64.2" fill="#fff" stroke="#b9b9b9" stroke-width="2"/><rect x="811.2" y="2947.6" width="66.2" height="64.2" fill="#fff" stroke="#b9b9b9" stroke-width="2"/><rect x="877.4" y="2947.6" width="66.2" height="64.2" fill="#fff" stroke="#b9b9b9" stroke-width="2"/><rect x="943.6" y="2947.6" width="66.2" height="64.2" fill="#fff" stroke="#b9b9b9" stroke-width="2"/><rect x="811.2" y="3011.8" width="66.2" height="64.2" fill="#fff" stroke="#b9b9b9" stroke-width="2"/><rect x="877.4" y="3011.8" width="66.2" height="64.2" fill="#fff" stroke="#b9b9b9" stroke-width="2"/><rect x="943.6" y="3011.8" width="66.2" height="64.2" fill="#fff" stroke="#b9b9b9" stroke-width="2"/><rect x="877.4" y="3076.1" width="66.2" height="64.2" fill="#fff" stroke="#b9b9b9" stroke-width="2"/><rect x="943.6" y="3076.1" width="66.2" height="64.2" fill="#fff" stroke="#b9b9b9" stroke-width="2"/><rect x="943.6" y="3140.3" width="66.2" height="64.2" fill="#fff" stroke="#b9b9b9" stroke-width="2"/>
<rect x="215.9" y="2497.9" width="66.2" height="64.2" fill="#56aff6" stroke="#4a5a6a" stroke-width="1.3"/>
<rect x="282.1" y="2562.1" width="66.2" height="64.2" fill="#56aff6" stroke="#4a5a6a" stroke-width="1.3"/>
<rect x="348.2" y="2626.4" width="66.2" height="64.2" fill="#56aff6" stroke="#4a5a6a" stroke-width="1.3"/>
<rect x="414.4" y="2690.6" width="66.2" height="64.2" fill="#56aff6" stroke="#4a5a6a" stroke-width="1.3"/>
<rect x="480.5" y="2754.9" width="66.2" height="64.2" fill="#56aff6" stroke="#4a5a6a" stroke-width="1.3"/>
<rect x="546.6" y="2819.1" width="66.2" height="64.2" fill="#56aff6" stroke="#4a5a6a" stroke-width="1.3"/>
<rect x="612.8" y="2883.3" width="66.2" height="64.2" fill="#56aff6" stroke="#4a5a6a" stroke-width="1.3"/>
<rect x="679.0" y="2947.6" width="66.2" height="64.2" fill="#56aff6" stroke="#4a5a6a" stroke-width="1.3"/>
<rect x="745.1" y="3011.8" width="66.2" height="64.2" fill="#56aff6" stroke="#4a5a6a" stroke-width="1.3"/>
<rect x="811.2" y="3076.1" width="66.2" height="64.2" fill="#56aff6" stroke="#4a5a6a" stroke-width="1.3"/>
<rect x="877.4" y="3140.3" width="66.2" height="64.2" fill="#56aff6" stroke="#4a5a6a" stroke-width="1.3"/>
<rect x="943.6" y="3204.5" width="66.2" height="64.2" fill="#56aff6" stroke="#4a5a6a" stroke-width="1.3"/>
<rect x="299.2" y="2514.1" width="31.8" height="31.8" fill="#1f4068"/>
<rect x="373.1" y="2521.8" width="16.4" height="16.4" fill="#1f4068"/>
<rect x="438.7" y="2521.3" width="17.4" height="17.4" fill="#1f4068"/>
<rect x="495.6" y="2512.1" width="35.9" height="35.9" fill="#346a9c"/>
<rect x="570.0" y="2520.3" width="19.5" height="19.5" fill="#346a9c"/>
<rect x="629.5" y="2513.6" width="32.8" height="32.8" fill="#1f4068"/>
<rect x="705.9" y="2523.9" width="12.3" height="12.3" fill="#1f4068"/>
<rect x="762.3" y="2514.1" width="31.8" height="31.8" fill="#1f4068"/>
<rect x="835.6" y="2521.3" width="17.4" height="17.4" fill="#346a9c"/>
<rect x="899.2" y="2518.8" width="22.5" height="22.5" fill="#346a9c"/>
<rect x="963.3" y="2516.7" width="26.6" height="26.6" fill="#1f4068"/>
<rect x="373.1" y="2586.1" width="16.4" height="16.4" fill="#346a9c"/>
<rect x="441.3" y="2588.1" width="12.3" height="12.3" fill="#1f4068"/>
<rect x="497.7" y="2578.4" width="31.8" height="31.8" fill="#1f4068"/>
<rect x="565.4" y="2579.9" width="28.7" height="28.7" fill="#1f4068"/>
<rect x="632.6" y="2580.9" width="26.6" height="26.6" fill="#346a9c"/>
<rect x="702.8" y="2585.0" width="18.4" height="18.4" fill="#346a9c"/>
<rect x="762.3" y="2578.4" width="31.8" height="31.8" fill="#346a9c"/>
<rect x="831.0" y="2580.9" width="26.6" height="26.6" fill="#1f4068"/>
<rect x="904.3" y="2588.1" width="12.3" height="12.3" fill="#1f4068"/>
<rect x="970.5" y="2588.1" width="12.3" height="12.3" fill="#1f4068"/>
<rect x="432.6" y="2643.6" width="29.7" height="29.7" fill="#1f4068"/>
<rect x="497.2" y="2642.1" width="32.8" height="32.8" fill="#1f4068"/>
<rect x="570.5" y="2649.3" width="18.4" height="18.4" fill="#346a9c"/>
<rect x="633.1" y="2645.7" width="25.6" height="25.6" fill="#346a9c"/>
<rect x="704.3" y="2650.8" width="15.4" height="15.4" fill="#1f4068"/>
<rect x="769.0" y="2649.3" width="18.4" height="18.4" fill="#346a9c"/>
<rect x="841.3" y="2655.4" width="6.1" height="6.1" fill="#1f4068"/>
<rect x="904.3" y="2652.4" width="12.3" height="12.3" fill="#1f4068"/>
<rect x="964.8" y="2646.7" width="23.6" height="23.6" fill="#1f4068"/>
<rect x="505.4" y="2714.5" width="16.4" height="16.4" fill="#346a9c"/>
<rect x="572.6" y="2715.6" width="14.3" height="14.3" fill="#346a9c"/>
<rect x="627.9" y="2704.8" width="35.9" height="35.9" fill="#1f4068"/>
<rect x="696.1" y="2706.9" width="31.8" height="31.8" fill="#1f4068"/>
<rect x="773.1" y="2717.6" width="10.2" height="10.2" fill="#1f4068"/>
<rect x="834.1" y="2712.5" width="20.5" height="20.5" fill="#1f4068"/>
<rect x="902.3" y="2714.5" width="16.4" height="16.4" fill="#346a9c"/>
<rect x="969.5" y="2715.6" width="14.3" height="14.3" fill="#346a9c"/>
<rect x="574.6" y="2781.9" width="10.2" height="10.2" fill="#1f4068"/>
<rect x="622.8" y="2763.9" width="46.1" height="46.1" fill="#142a46"/>
<rect x="709.0" y="2783.9" width="6.1" height="6.1" fill="#1f4068"/>
<rect x="760.2" y="2769.1" width="35.9" height="35.9" fill="#1f4068"/>
<rect x="836.6" y="2779.3" width="15.4" height="15.4" fill="#346a9c"/>
<rect x="900.2" y="2776.7" width="20.5" height="20.5" fill="#346a9c"/>
<rect x="972.0" y="2782.4" width="9.2" height="9.2" fill="#1f4068"/>
<rect x="630.5" y="2835.9" width="30.7" height="30.7" fill="#1f4068"/>
<rect x="709.5" y="2848.7" width="5.1" height="5.1" fill="#1f4068"/>
<rect x="761.8" y="2834.8" width="32.8" height="32.8" fill="#1f4068"/>
<rect x="835.6" y="2842.5" width="17.4" height="17.4" fill="#346a9c"/>
<rect x="903.3" y="2844.0" width="14.3" height="14.3" fill="#346a9c"/>
<rect x="973.6" y="2848.1" width="6.1" height="6.1" fill="#1f4068"/>
<rect x="704.3" y="2907.8" width="15.4" height="15.4" fill="#1f4068"/>
<rect x="760.8" y="2898.0" width="34.8" height="34.8" fill="#346a9c"/>
<rect x="833.1" y="2904.2" width="22.5" height="22.5" fill="#1f4068"/>
<rect x="900.2" y="2905.2" width="20.5" height="20.5" fill="#1f4068"/>
<rect x="964.8" y="2903.7" width="23.6" height="23.6" fill="#346a9c"/>
<rect x="772.0" y="2973.6" width="12.3" height="12.3" fill="#1f4068"/>
<rect x="835.6" y="2971.0" width="17.4" height="17.4" fill="#346a9c"/>
<rect x="906.4" y="2975.6" width="8.2" height="8.2" fill="#1f4068"/>
<rect x="967.4" y="2970.5" width="18.4" height="18.4" fill="#1f4068"/>
<rect x="822.3" y="3021.9" width="44.0" height="44.0" fill="#142a46"/>
<rect x="904.3" y="3037.8" width="12.3" height="12.3" fill="#1f4068"/>
<rect x="960.7" y="3028.1" width="31.8" height="31.8" fill="#346a9c"/>
<rect x="903.8" y="3101.5" width="13.3" height="13.3" fill="#1f4068"/>
<rect x="970.0" y="3101.5" width="13.3" height="13.3" fill="#1f4068"/>
<rect x="968.9" y="3164.7" width="15.4" height="15.4" fill="#1f4068"/>
<line x1="364.0" y1="3034.0" x2="259.4" y2="2614.2" stroke="#2fbcbc" stroke-width="3" />
<line x1="364.0" y1="3034.0" x2="312.1" y2="2691.5" stroke="#ef8078" stroke-width="3" />
<line x1="364.0" y1="3034.0" x2="373.6" y2="2735.0" stroke="#2fbcbc" stroke-width="3" />
<line x1="364.0" y1="3034.0" x2="442.2" y2="2787.3" stroke="#2fbcbc" stroke-width="3" />
<line x1="364.0" y1="3034.0" x2="485.8" y2="2842.1" stroke="#2fbcbc" stroke-width="3" />
<line x1="364.0" y1="3034.0" x2="526.8" y2="2892.8" stroke="#2fbcbc" stroke-width="3" />
<line x1="364.0" y1="3034.0" x2="577.0" y2="2939.4" stroke="#2fbcbc" stroke-width="3" />
<line x1="364.0" y1="3034.0" x2="642.0" y2="2984.5" stroke="#2fbcbc" stroke-width="3" />
<line x1="364.0" y1="3034.0" x2="705.0" y2="3044.4" stroke="#ef8078" stroke-width="3" />
<line x1="364.0" y1="3034.0" x2="779.3" y2="3111.0" stroke="#2fbcbc" stroke-width="3" />
<line x1="364.0" y1="3034.0" x2="840.7" y2="3172.5" stroke="#2fbcbc" stroke-width="3" />
<line x1="364.0" y1="3034.0" x2="903.7" y2="3238.0" stroke="#2fbcbc" stroke-width="3" />
<circle cx="356.7" cy="3033.2" r="49.7" fill="#ff0000" stroke="#5030d8" stroke-width="2.5"/>
<circle cx="259.4" cy="2614.2" r="15.4" fill="#ff0000" stroke="#5030d8" stroke-width="2.4"/>
<line x1="246.0" y1="2614.2" x2="272.8" y2="2614.2" stroke="#000" stroke-width="3.6"/>
<line x1="259.4" y1="2600.8" x2="259.4" y2="2627.6" stroke="#000" stroke-width="3.6"/>
<circle cx="312.1" cy="2691.5" r="15.4" fill="#ff0000" stroke="#5030d8" stroke-width="2.4"/>
<line x1="298.7" y1="2691.5" x2="325.5" y2="2691.5" stroke="#000" stroke-width="3.6"/>
<circle cx="373.6" cy="2735.0" r="15.4" fill="#ff0000" stroke="#5030d8" stroke-width="2.4"/>
<line x1="360.2" y1="2735.0" x2="387.0" y2="2735.0" stroke="#000" stroke-width="3.6"/>
<circle cx="442.2" cy="2787.3" r="15.4" fill="#ff0000" stroke="#5030d8" stroke-width="2.4"/>
<line x1="428.8" y1="2787.3" x2="455.6" y2="2787.3" stroke="#000" stroke-width="3.6"/>
<line x1="442.2" y1="2773.9" x2="442.2" y2="2800.7" stroke="#000" stroke-width="3.6"/>
<circle cx="485.8" cy="2842.1" r="15.4" fill="#ff0000" stroke="#5030d8" stroke-width="2.4"/>
<line x1="472.4" y1="2842.1" x2="499.2" y2="2842.1" stroke="#000" stroke-width="3.6"/>
<line x1="485.8" y1="2828.7" x2="485.8" y2="2855.5" stroke="#000" stroke-width="3.6"/>
<circle cx="526.8" cy="2892.8" r="15.4" fill="#ff0000" stroke="#5030d8" stroke-width="2.4"/>
<line x1="513.4" y1="2892.8" x2="540.2" y2="2892.8" stroke="#000" stroke-width="3.6"/>
<line x1="526.8" y1="2879.4" x2="526.8" y2="2906.2" stroke="#000" stroke-width="3.6"/>
<circle cx="577.0" cy="2939.4" r="15.4" fill="#ff0000" stroke="#5030d8" stroke-width="2.4"/>
<line x1="563.6" y1="2939.4" x2="590.4" y2="2939.4" stroke="#000" stroke-width="3.6"/>
<line x1="577.0" y1="2926.0" x2="577.0" y2="2952.8" stroke="#000" stroke-width="3.6"/>
<circle cx="642.0" cy="2984.5" r="15.4" fill="#ff0000" stroke="#5030d8" stroke-width="2.4"/>
<line x1="628.6" y1="2984.5" x2="655.4" y2="2984.5" stroke="#000" stroke-width="3.6"/>
<line x1="642.0" y1="2971.1" x2="642.0" y2="2997.9" stroke="#000" stroke-width="3.6"/>
<circle cx="705.0" cy="3044.4" r="15.4" fill="#ff0000" stroke="#5030d8" stroke-width="2.4"/>
<line x1="691.6" y1="3044.4" x2="718.4" y2="3044.4" stroke="#000" stroke-width="3.6"/>
<circle cx="779.3" cy="3111.0" r="15.4" fill="#ff0000" stroke="#5030d8" stroke-width="2.4"/>
<line x1="765.9" y1="3111.0" x2="792.7" y2="3111.0" stroke="#000" stroke-width="3.6"/>
<circle cx="840.7" cy="3172.5" r="15.4" fill="#ff0000" stroke="#5030d8" stroke-width="2.4"/>
<line x1="827.3" y1="3172.5" x2="854.1" y2="3172.5" stroke="#000" stroke-width="3.6"/>
<circle cx="903.7" cy="3238.0" r="15.4" fill="#ff0000" stroke="#5030d8" stroke-width="2.4"/>
<line x1="890.3" y1="3238.0" x2="917.1" y2="3238.0" stroke="#000" stroke-width="3.6"/>
<line x1="903.7" y1="3224.6" x2="903.7" y2="3251.4" stroke="#000" stroke-width="3.6"/>
<text transform="translate(219.0,3139.9) scale(1,1.025)" font-size="34" text-anchor="start" fill="#222" stroke="#222" stroke-width="0.5" >Ferroptosis score</text>
<text transform="translate(1074.0,2646.0) scale(1,1.025)" font-size="34" text-anchor="start" fill="#3a3a3a" stroke="#3a3a3a" stroke-width="0.5" >Correction r</text>
<line x1="1077.6" y1="2693.4" x2="1120.0" y2="2693.4" stroke="#8c8c8c" stroke-width="2.4" />
<text transform="translate(1143.0,2703.0) scale(1,1.025)" font-size="27.7" text-anchor="start" fill="#3a3a3a" stroke="#3a3a3a" stroke-width="0.5" >&lt; 0.1</text>
<line x1="1077.6" y1="2745.5" x2="1120.0" y2="2745.5" stroke="#555555" stroke-width="5.5" />
<text transform="translate(1143.0,2755.2) scale(1,1.025)" font-size="27.7" text-anchor="start" fill="#3a3a3a" stroke="#3a3a3a" stroke-width="0.5" >0.1 − 0.2</text>
<circle cx="1098.8" cy="2807.3" r="15" fill="#ff0000" stroke="#5030d8" stroke-width="2.4"/>
<line x1="1085.8" y1="2807.3" x2="1111.8" y2="2807.3" stroke="#000" stroke-width="3.6"/>
<text transform="translate(1141.0,2814.6) scale(1,1.025)" font-size="27.7" text-anchor="start" fill="#3a3a3a" stroke="#3a3a3a" stroke-width="0.5" >negative</text>
<circle cx="1098.8" cy="2857.0" r="15" fill="#ff0000" stroke="#5030d8" stroke-width="2.4"/>
<line x1="1085.8" y1="2857.0" x2="1111.8" y2="2857.0" stroke="#000" stroke-width="3.6"/>
<line x1="1098.8" y1="2844.0" x2="1098.8" y2="2870.0" stroke="#000" stroke-width="3.6"/>
<text transform="translate(1141.0,2863.0) scale(1,1.025)" font-size="27.7" text-anchor="start" fill="#3a3a3a" stroke="#3a3a3a" stroke-width="0.5" >positive</text>
<text transform="translate(1074.0,2949.2) scale(1,1.025)" font-size="34" text-anchor="start" fill="#3a3a3a" stroke="#3a3a3a" stroke-width="0.5" >Correction <tspan font-style="italic">p</tspan></text>
<line x1="1077.6" y1="2996.5" x2="1120.0" y2="2996.5" stroke="#f28b82" stroke-width="3" />
<text transform="translate(1143.0,3005.0) scale(1,1.025)" font-size="27.7" text-anchor="start" fill="#3a3a3a" stroke="#3a3a3a" stroke-width="0.5" >&lt; 0.01</text>
<line x1="1077.6" y1="3048.6" x2="1120.0" y2="3048.6" stroke="#3cbf5c" stroke-width="3.2" />
<text transform="translate(1143.0,3058.3) scale(1,1.025)" font-size="27.7" text-anchor="start" fill="#3a3a3a" stroke="#3a3a3a" stroke-width="0.5" >0.01 − 0.05</text>
<line x1="1077.6" y1="3100.8" x2="1120.0" y2="3100.8" stroke="#78aaf6" stroke-width="3" />
<text transform="translate(1143.0,3110.5) scale(1,1.025)" font-size="27.7" text-anchor="start" fill="#3a3a3a" stroke="#3a3a3a" stroke-width="0.5" >≥</text>
<text transform="translate(1184.0,3110.5) scale(1,1.025)" font-size="27.7" text-anchor="start" fill="#3a3a3a" stroke="#3a3a3a" stroke-width="0.5" >0.05</text>
<text transform="translate(1350.0,2216.6) scale(1,1.025)" font-size="67" text-anchor="start" fill="#000" stroke="#000" stroke-width="0.3" font-weight="bold" >E</text>
<text transform="translate(1714.5,2220.0) scale(1,1.025)" font-size="56" text-anchor="middle" fill="#000" stroke="#000" stroke-width="0.3" font-weight="bold" >Adaptive</text>
<text transform="translate(1433.5,2514.0) rotate(-45) scale(1,1.025)" font-size="34" text-anchor="start" fill="#111" stroke="#111" stroke-width="0.5" >Memory B cell</text>
<text transform="translate(1502.6,2514.0) rotate(-45) scale(1,1.025)" font-size="34" text-anchor="start" fill="#111" stroke="#111" stroke-width="0.5" >Naive B cell</text>
<text transform="translate(1571.6,2514.0) rotate(-45) scale(1,1.025)" font-size="34" text-anchor="start" fill="#111" stroke="#111" stroke-width="0.5" >Plasma B cell</text>
<text transform="translate(1640.7,2514.0) rotate(-45) scale(1,1.025)" font-size="34" text-anchor="start" fill="#111" stroke="#111" stroke-width="0.5" >Activated memory CD4+ T cell</text>
<text transform="translate(1709.7,2514.0) rotate(-45) scale(1,1.025)" font-size="34" text-anchor="start" fill="#111" stroke="#111" stroke-width="0.5" >Resting memory CD4+ T cell</text>
<text transform="translate(1778.8,2514.0) rotate(-45) scale(1,1.025)" font-size="34" text-anchor="start" fill="#111" stroke="#111" stroke-width="0.5" >Naive CD4+ T cell</text>
<text transform="translate(1847.8,2514.0) rotate(-45) scale(1,1.025)" font-size="34" text-anchor="start" fill="#111" stroke="#111" stroke-width="0.5" >CD8+ T cell</text>
<text transform="translate(1916.9,2514.0) rotate(-45) scale(1,1.025)" font-size="34" text-anchor="start" fill="#111" stroke="#111" stroke-width="0.5" >T follicular helper cell</text>
<text transform="translate(1985.9,2514.0) rotate(-45) scale(1,1.025)" font-size="34" text-anchor="start" fill="#111" stroke="#111" stroke-width="0.5" >Gamma Delta T cell</text>
<text transform="translate(2055.0,2514.0) rotate(-45) scale(1,1.025)" font-size="34" text-anchor="start" fill="#111" stroke="#111" stroke-width="0.5" >Regulatory T cell</text>
<rect x="1459.0" y="2544.1" width="69.0" height="69.3" fill="#fff" stroke="#b9b9b9" stroke-width="2"/><rect x="1528.1" y="2544.1" width="69.0" height="69.3" fill="#fff" stroke="#b9b9b9" stroke-width="2"/><rect x="1597.2" y="2544.1" width="69.0" height="69.3" fill="#fff" stroke="#b9b9b9" stroke-width="2"/><rect x="1666.2" y="2544.1" width="69.0" height="69.3" fill="#fff" stroke="#b9b9b9" stroke-width="2"/><rect x="1735.2" y="2544.1" width="69.0" height="69.3" fill="#fff" stroke="#b9b9b9" stroke-width="2"/><rect x="1804.3" y="2544.1" width="69.0" height="69.3" fill="#fff" stroke="#b9b9b9" stroke-width="2"/><rect x="1873.3" y="2544.1" width="69.0" height="69.3" fill="#fff" stroke="#b9b9b9" stroke-width="2"/><rect x="1942.4" y="2544.1" width="69.0" height="69.3" fill="#fff" stroke="#b9b9b9" stroke-width="2"/><rect x="2011.4" y="2544.1" width="69.0" height="69.3" fill="#fff" stroke="#b9b9b9" stroke-width="2"/><rect x="1528.1" y="2613.4" width="69.0" height="69.3" fill="#fff" stroke="#b9b9b9" stroke-width="2"/><rect x="1597.2" y="2613.4" width="69.0" height="69.3" fill="#fff" stroke="#b9b9b9" stroke-width="2"/><rect x="1666.2" y="2613.4" width="69.0" height="69.3" fill="#fff" stroke="#b9b9b9" stroke-width="2"/><rect x="1735.2" y="2613.4" width="69.0" height="69.3" fill="#fff" stroke="#b9b9b9" stroke-width="2"/><rect x="1804.3" y="2613.4" width="69.0" height="69.3" fill="#fff" stroke="#b9b9b9" stroke-width="2"/><rect x="1873.3" y="2613.4" width="69.0" height="69.3" fill="#fff" stroke="#b9b9b9" stroke-width="2"/><rect x="1942.4" y="2613.4" width="69.0" height="69.3" fill="#fff" stroke="#b9b9b9" stroke-width="2"/><rect x="2011.4" y="2613.4" width="69.0" height="69.3" fill="#fff" stroke="#b9b9b9" stroke-width="2"/><rect x="1597.2" y="2682.8" width="69.0" height="69.3" fill="#fff" stroke="#b9b9b9" stroke-width="2"/><rect x="1666.2" y="2682.8" width="69.0" height="69.3" fill="#fff" stroke="#b9b9b9" stroke-width="2"/><rect x="1735.2" y="2682.8" width="69.0" height="69.3" fill="#fff" stroke="#b9b9b9" stroke-width="2"/><rect x="1804.3" y="2682.8" width="69.0" height="69.3" fill="#fff" stroke="#b9b9b9" stroke-width="2"/><rect x="1873.3" y="2682.8" width="69.0" height="69.3" fill="#fff" stroke="#b9b9b9" stroke-width="2"/><rect x="1942.4" y="2682.8" width="69.0" height="69.3" fill="#fff" stroke="#b9b9b9" stroke-width="2"/><rect x="2011.4" y="2682.8" width="69.0" height="69.3" fill="#fff" stroke="#b9b9b9" stroke-width="2"/><rect x="1666.2" y="2752.1" width="69.0" height="69.3" fill="#fff" stroke="#b9b9b9" stroke-width="2"/><rect x="1735.2" y="2752.1" width="69.0" height="69.3" fill="#fff" stroke="#b9b9b9" stroke-width="2"/><rect x="1804.3" y="2752.1" width="69.0" height="69.3" fill="#fff" stroke="#b9b9b9" stroke-width="2"/><rect x="1873.3" y="2752.1" width="69.0" height="69.3" fill="#fff" stroke="#b9b9b9" stroke-width="2"/><rect x="1942.4" y="2752.1" width="69.0" height="69.3" fill="#fff" stroke="#b9b9b9" stroke-width="2"/><rect x="2011.4" y="2752.1" width="69.0" height="69.3" fill="#fff" stroke="#b9b9b9" stroke-width="2"/><rect x="1735.2" y="2821.4" width="69.0" height="69.3" fill="#fff" stroke="#b9b9b9" stroke-width="2"/><rect x="1804.3" y="2821.4" width="69.0" height="69.3" fill="#fff" stroke="#b9b9b9" stroke-width="2"/><rect x="1873.3" y="2821.4" width="69.0" height="69.3" fill="#fff" stroke="#b9b9b9" stroke-width="2"/><rect x="1942.4" y="2821.4" width="69.0" height="69.3" fill="#fff" stroke="#b9b9b9" stroke-width="2"/><rect x="2011.4" y="2821.4" width="69.0" height="69.3" fill="#fff" stroke="#b9b9b9" stroke-width="2"/><rect x="1804.3" y="2890.8" width="69.0" height="69.3" fill="#fff" stroke="#b9b9b9" stroke-width="2"/><rect x="1873.3" y="2890.8" width="69.0" height="69.3" fill="#fff" stroke="#b9b9b9" stroke-width="2"/><rect x="1942.4" y="2890.8" width="69.0" height="69.3" fill="#fff" stroke="#b9b9b9" stroke-width="2"/><rect x="2011.4" y="2890.8" width="69.0" height="69.3" fill="#fff" stroke="#b9b9b9" stroke-width="2"/><rect x="1873.3" y="2960.1" width="69.0" height="69.3" fill="#fff" stroke="#b9b9b9" stroke-width="2"/><rect x="1942.4" y="2960.1" width="69.0" height="69.3" fill="#fff" stroke="#b9b9b9" stroke-width="2"/><rect x="2011.4" y="2960.1" width="69.0" height="69.3" fill="#fff" stroke="#b9b9b9" stroke-width="2"/><rect x="1942.4" y="3029.4" width="69.0" height="69.3" fill="#fff" stroke="#b9b9b9" stroke-width="2"/><rect x="2011.4" y="3029.4" width="69.0" height="69.3" fill="#fff" stroke="#b9b9b9" stroke-width="2"/><rect x="2011.4" y="3098.7" width="69.0" height="69.3" fill="#fff" stroke="#b9b9b9" stroke-width="2"/>
<rect x="1390.0" y="2544.1" width="69.0" height="69.3" fill="#56aff6" stroke="#4a5a6a" stroke-width="1.3"/>
<rect x="1459.0" y="2613.4" width="69.0" height="69.3" fill="#56aff6" stroke="#4a5a6a" stroke-width="1.3"/>
<rect x="1528.1" y="2682.8" width="69.0" height="69.3" fill="#56aff6" stroke="#4a5a6a" stroke-width="1.3"/>
<rect x="1597.2" y="2752.1" width="69.0" height="69.3" fill="#56aff6" stroke="#4a5a6a" stroke-width="1.3"/>
<rect x="1666.2" y="2821.4" width="69.0" height="69.3" fill="#56aff6" stroke="#4a5a6a" stroke-width="1.3"/>
<rect x="1735.2" y="2890.8" width="69.0" height="69.3" fill="#56aff6" stroke="#4a5a6a" stroke-width="1.3"/>
<rect x="1804.3" y="2960.1" width="69.0" height="69.3" fill="#56aff6" stroke="#4a5a6a" stroke-width="1.3"/>
<rect x="1873.3" y="3029.4" width="69.0" height="69.3" fill="#56aff6" stroke="#4a5a6a" stroke-width="1.3"/>
<rect x="1942.4" y="3098.7" width="69.0" height="69.3" fill="#56aff6" stroke="#4a5a6a" stroke-width="1.3"/>
<rect x="2011.4" y="3168.1" width="69.0" height="69.3" fill="#56aff6" stroke="#4a5a6a" stroke-width="1.3"/>
<rect x="1485.2" y="2570.4" width="16.7" height="16.7" fill="#1f4068"/>
<rect x="1554.3" y="2570.4" width="16.7" height="16.7" fill="#1f4068"/>
<rect x="1614.1" y="2561.2" width="35.2" height="35.2" fill="#142a46"/>
<rect x="1684.5" y="2562.5" width="32.4" height="32.4" fill="#346a9c"/>
<rect x="1763.8" y="2572.7" width="12.0" height="12.0" fill="#1f4068"/>
<rect x="1823.5" y="2563.5" width="30.6" height="30.6" fill="#1f4068"/>
<rect x="1892.1" y="2563.0" width="31.5" height="31.5" fill="#346a9c"/>
<rect x="1966.3" y="2568.1" width="21.3" height="21.3" fill="#1f4068"/>
<rect x="2030.7" y="2563.5" width="30.6" height="30.6" fill="#346a9c"/>
<rect x="1558.0" y="2643.5" width="9.3" height="9.3" fill="#1f4068"/>
<rect x="1620.1" y="2636.5" width="23.2" height="23.2" fill="#1f4068"/>
<rect x="1692.4" y="2639.8" width="16.7" height="16.7" fill="#1f4068"/>
<rect x="1757.7" y="2636.0" width="24.1" height="24.1" fill="#346a9c"/>
<rect x="1830.5" y="2639.8" width="16.7" height="16.7" fill="#1f4068"/>
<rect x="1906.5" y="2646.7" width="2.8" height="2.8" fill="#1f4068"/>
<rect x="1971.4" y="2642.5" width="11.1" height="11.1" fill="#1f4068"/>
<rect x="2035.3" y="2637.4" width="21.3" height="21.3" fill="#346a9c"/>
<rect x="1618.7" y="2704.4" width="26.0" height="26.0" fill="#1f4068"/>
<rect x="1691.5" y="2708.2" width="18.5" height="18.5" fill="#1f4068"/>
<rect x="1760.5" y="2708.2" width="18.5" height="18.5" fill="#346a9c"/>
<rect x="1831.4" y="2710.0" width="14.8" height="14.8" fill="#1f4068"/>
<rect x="1900.0" y="2709.5" width="15.8" height="15.8" fill="#1f4068"/>
<rect x="1973.2" y="2713.7" width="7.4" height="7.4" fill="#1f4068"/>
<rect x="2039.5" y="2710.9" width="13.0" height="13.0" fill="#1f4068"/>
<rect x="1683.6" y="2769.6" width="34.3" height="34.3" fill="#1f4068"/>
<rect x="1753.1" y="2770.1" width="33.4" height="33.4" fill="#1f4068"/>
<rect x="1819.4" y="2767.3" width="38.9" height="38.9" fill="#346a9c"/>
<rect x="1891.2" y="2770.1" width="33.4" height="33.4" fill="#1f4068"/>
<rect x="1963.5" y="2773.3" width="26.9" height="26.9" fill="#346a9c"/>
<rect x="2026.0" y="2766.8" width="39.9" height="39.9" fill="#142a46"/>
<rect x="1754.5" y="2840.8" width="30.6" height="30.6" fill="#1f4068"/>
<rect x="1819.4" y="2836.6" width="38.9" height="38.9" fill="#142a46"/>
<rect x="1899.1" y="2847.3" width="17.6" height="17.6" fill="#346a9c"/>
<rect x="1963.9" y="2843.1" width="26.0" height="26.0" fill="#1f4068"/>
<rect x="2040.9" y="2851.0" width="10.2" height="10.2" fill="#1f4068"/>
<rect x="1822.6" y="2909.2" width="32.4" height="32.4" fill="#1f4068"/>
<rect x="1896.8" y="2914.3" width="22.2" height="22.2" fill="#1f4068"/>
<rect x="1966.3" y="2914.8" width="21.3" height="21.3" fill="#1f4068"/>
<rect x="2026.5" y="2906.0" width="38.9" height="38.9" fill="#346a9c"/>
<rect x="1901.9" y="2988.7" width="12.0" height="12.0" fill="#1f4068"/>
<rect x="1963.0" y="2980.8" width="27.8" height="27.8" fill="#346a9c"/>
<rect x="2036.2" y="2985.0" width="19.5" height="19.5" fill="#1f4068"/>
<rect x="1975.1" y="3062.2" width="3.7" height="3.7" fill="#1f4068"/>
<rect x="2038.1" y="3056.2" width="15.8" height="15.8" fill="#1f4068"/>
<rect x="2033.0" y="3120.4" width="26.0" height="26.0" fill="#1f4068"/>
<line x1="1514.0" y1="3030.0" x2="1404.9" y2="2644.2" stroke="#3cbf5c" stroke-width="3.2" />
<line x1="1514.0" y1="3030.0" x2="1468.8" y2="2713.7" stroke="#3cbf5c" stroke-width="3.2" />
<line x1="1514.0" y1="3030.0" x2="1540.7" y2="2784.1" stroke="#78aaf6" stroke-width="3" />
<line x1="1514.0" y1="3030.0" x2="1590.7" y2="2845.8" stroke="#78aaf6" stroke-width="3" />
<line x1="1514.0" y1="3030.0" x2="1644.0" y2="2882.9" stroke="#78aaf6" stroke-width="3" />
<line x1="1514.0" y1="3030.0" x2="1697.3" y2="2928.7" stroke="#f07466" stroke-width="6" />
<line x1="1514.0" y1="3030.0" x2="1761.7" y2="2997.3" stroke="#78aaf6" stroke-width="3" />
<line x1="1514.0" y1="3030.0" x2="1825.2" y2="3062.2" stroke="#78aaf6" stroke-width="3" />
<line x1="1514.0" y1="3030.0" x2="1910.0" y2="3135.4" stroke="#78aaf6" stroke-width="3" />
<line x1="1514.0" y1="3030.0" x2="1973.0" y2="3205.9" stroke="#f07466" stroke-width="6" />
<circle cx="1502.2" cy="3036.7" r="50" fill="#ff0000" stroke="#5030d8" stroke-width="2.5"/>
<circle cx="1404.9" cy="2644.2" r="14.5" fill="#ff0000" stroke="#5030d8" stroke-width="2.4"/>
<line x1="1392.4" y1="2644.2" x2="1417.4" y2="2644.2" stroke="#000" stroke-width="3.6"/>
<circle cx="1468.8" cy="2713.7" r="14.5" fill="#ff0000" stroke="#5030d8" stroke-width="2.4"/>
<line x1="1456.3" y1="2713.7" x2="1481.3" y2="2713.7" stroke="#000" stroke-width="3.6"/>
<circle cx="1540.7" cy="2784.1" r="14.5" fill="#ff0000" stroke="#5030d8" stroke-width="2.4"/>
<line x1="1528.2" y1="2784.1" x2="1553.2" y2="2784.1" stroke="#000" stroke-width="3.6"/>
<circle cx="1590.7" cy="2845.8" r="14.5" fill="#ff0000" stroke="#5030d8" stroke-width="2.4"/>
<line x1="1578.2" y1="2845.8" x2="1603.2" y2="2845.8" stroke="#000" stroke-width="3.6"/>
<line x1="1590.7" y1="2833.3" x2="1590.7" y2="2858.3" stroke="#000" stroke-width="3.6"/>
<circle cx="1644.0" cy="2882.9" r="14.5" fill="#ff0000" stroke="#5030d8" stroke-width="2.4"/>
<line x1="1631.5" y1="2882.9" x2="1656.5" y2="2882.9" stroke="#000" stroke-width="3.6"/>
<line x1="1644.0" y1="2870.4" x2="1644.0" y2="2895.4" stroke="#000" stroke-width="3.6"/>
<circle cx="1697.3" cy="2928.7" r="14.5" fill="#ff0000" stroke="#5030d8" stroke-width="2.4"/>
<line x1="1684.8" y1="2928.7" x2="1709.8" y2="2928.7" stroke="#000" stroke-width="3.6"/>
<circle cx="1761.7" cy="2997.3" r="14.5" fill="#ff0000" stroke="#5030d8" stroke-width="2.4"/>
<line x1="1749.2" y1="2997.3" x2="1774.2" y2="2997.3" stroke="#000" stroke-width="3.6"/>
<line x1="1761.7" y1="2984.8" x2="1761.7" y2="3009.8" stroke="#000" stroke-width="3.6"/>
<circle cx="1825.2" cy="3062.2" r="14.5" fill="#ff0000" stroke="#5030d8" stroke-width="2.4"/>
<line x1="1812.7" y1="3062.2" x2="1837.7" y2="3062.2" stroke="#000" stroke-width="3.6"/>
<circle cx="1910.0" cy="3135.4" r="14.5" fill="#ff0000" stroke="#5030d8" stroke-width="2.4"/>
<line x1="1897.5" y1="3135.4" x2="1922.5" y2="3135.4" stroke="#000" stroke-width="3.6"/>
<circle cx="1973.0" cy="3205.9" r="14.5" fill="#ff0000" stroke="#5030d8" stroke-width="2.4"/>
<line x1="1960.5" y1="3205.9" x2="1985.5" y2="3205.9" stroke="#000" stroke-width="3.6"/>
<text transform="translate(1364.5,3148.5) scale(1,1.025)" font-size="34" text-anchor="start" fill="#222" stroke="#222" stroke-width="0.5" >Ferroptosis score</text>
<text transform="translate(2134.4,2660.7) scale(1,1.025)" font-size="34" text-anchor="start" fill="#3a3a3a" stroke="#3a3a3a" stroke-width="0.5" >Correction r</text>
<line x1="2139.7" y1="2709.6" x2="2182.0" y2="2709.6" stroke="#8c8c8c" stroke-width="2.4" />
<text transform="translate(2204.5,2720.2) scale(1,1.025)" font-size="27.7" text-anchor="start" fill="#3a3a3a" stroke="#3a3a3a" stroke-width="0.5" >&lt; 0.1</text>
<line x1="2139.7" y1="2762.5" x2="2182.0" y2="2762.5" stroke="#555555" stroke-width="5.5" />
<text transform="translate(2204.5,2773.0) scale(1,1.025)" font-size="27.7" text-anchor="start" fill="#3a3a3a" stroke="#3a3a3a" stroke-width="0.5" >0.1 − 0.2</text>
<circle cx="2160.8" cy="2827.4" r="15" fill="#ff0000" stroke="#5030d8" stroke-width="2.4"/>
<line x1="2147.8" y1="2827.4" x2="2173.8" y2="2827.4" stroke="#000" stroke-width="3.6"/>
<text transform="translate(2202.5,2835.3) scale(1,1.025)" font-size="27.7" text-anchor="start" fill="#3a3a3a" stroke="#3a3a3a" stroke-width="0.5" >negative</text>
<circle cx="2160.8" cy="2879.0" r="15" fill="#ff0000" stroke="#5030d8" stroke-width="2.4"/>
<line x1="2147.8" y1="2879.0" x2="2173.8" y2="2879.0" stroke="#000" stroke-width="3.6"/>
<line x1="2160.8" y1="2866.0" x2="2160.8" y2="2892.0" stroke="#000" stroke-width="3.6"/>
<text transform="translate(2202.5,2885.6) scale(1,1.025)" font-size="27.7" text-anchor="start" fill="#3a3a3a" stroke="#3a3a3a" stroke-width="0.5" >positive</text>
<text transform="translate(2134.4,2971.5) scale(1,1.025)" font-size="34" text-anchor="start" fill="#3a3a3a" stroke="#3a3a3a" stroke-width="0.5" >Correction <tspan font-style="italic">p</tspan></text>
<line x1="2139.7" y1="3020.5" x2="2182.0" y2="3020.5" stroke="#f28b82" stroke-width="3" />
<text transform="translate(2204.5,3029.7) scale(1,1.025)" font-size="27.7" text-anchor="start" fill="#3a3a3a" stroke="#3a3a3a" stroke-width="0.5" >&lt; 0.01</text>
<line x1="2139.7" y1="3074.7" x2="2182.0" y2="3074.7" stroke="#3cbf5c" stroke-width="3.2" />
<text transform="translate(2204.5,3085.3) scale(1,1.025)" font-size="27.7" text-anchor="start" fill="#3a3a3a" stroke="#3a3a3a" stroke-width="0.5" >0.01 − 0.05</text>
<line x1="2139.7" y1="3129.0" x2="2182.0" y2="3129.0" stroke="#78aaf6" stroke-width="3" />
<text transform="translate(2204.5,3138.2) scale(1,1.025)" font-size="27.7" text-anchor="start" fill="#3a3a3a" stroke="#3a3a3a" stroke-width="0.5" >≥</text>
<text transform="translate(2245.5,3138.2) scale(1,1.025)" font-size="27.7" text-anchor="start" fill="#3a3a3a" stroke="#3a3a3a" stroke-width="0.5" >0.05</text>
</svg></body></html>
